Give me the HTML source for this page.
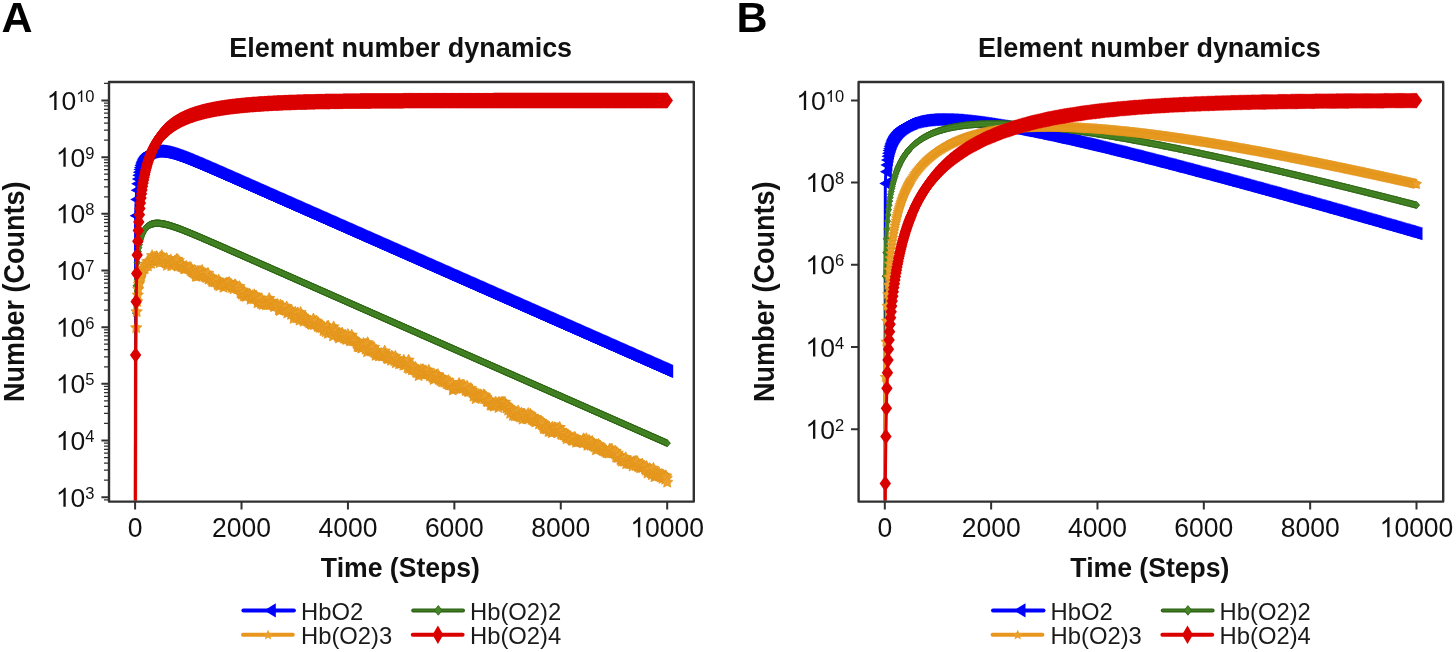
<!DOCTYPE html>
<html><head><meta charset="utf-8"><style>
html,body{margin:0;padding:0;background:#fff;}
svg{display:block;font-family:"Liberation Sans", sans-serif;will-change:transform;}
</style></head><body>
<svg width="1456" height="652" viewBox="0 0 1456 652">
<defs>
<marker id="mB" markerUnits="userSpaceOnUse" markerWidth="20" markerHeight="20" viewBox="-10 -10 20 20" refX="0" refY="0" overflow="visible"><path d="M-6,0 L6,-6.6 L6,6.6 Z" fill="#0000ff"/></marker>
<marker id="mC" markerUnits="userSpaceOnUse" markerWidth="20" markerHeight="20" viewBox="-10 -10 20 20" refX="0" refY="0" overflow="visible"><path d="M-3.1,0 L0,-3.6 L3.1,0 L0,3.6 Z" fill="#4b8b2b" stroke="#2f6414" stroke-width="0.9"/></marker>
<marker id="mDA" markerUnits="userSpaceOnUse" markerWidth="20" markerHeight="20" viewBox="-10 -10 20 20" refX="0" refY="0" overflow="visible"><path d="M0.00,-6.00 L1.76,-2.43 L5.71,-1.85 L2.85,0.93 L3.53,4.85 L0.00,3.00 L-3.53,4.85 L-2.85,0.93 L-5.71,-1.85 L-1.76,-2.43 Z" fill="#eba12c" stroke="#e39318" stroke-width="0.7"/></marker>
<marker id="mDB" markerUnits="userSpaceOnUse" markerWidth="20" markerHeight="20" viewBox="-10 -10 20 20" refX="0" refY="0" overflow="visible"><path d="M0.00,-5.30 L1.56,-2.14 L5.04,-1.64 L2.52,0.82 L3.12,4.29 L0.00,2.65 L-3.12,4.29 L-2.52,0.82 L-5.04,-1.64 L-1.56,-2.14 Z" fill="#eba12c" stroke="#e39318" stroke-width="0.7"/></marker>
<marker id="mE" markerUnits="userSpaceOnUse" markerWidth="20" markerHeight="20" viewBox="-10 -10 20 20" refX="0" refY="0" overflow="visible"><path d="M-5.7,0 L0,-7.9 L5.7,0 L0,7.9 Z" fill="#db0000"/></marker>
</defs>
<rect width="1456" height="652" fill="#fff"/>
<clipPath id="clipA"><rect x="110" y="83" width="582.8" height="417.6"/></clipPath>
<g clip-path="url(#clipA)">
<polyline points="135.1,700 135.6,215.7 136.2,199.4 136.7,190.2 137.2,183.8 137.8,179.1 138.3,175.3 138.8,172.2 139.4,169.6 139.9,167.5 140.4,165.6 141,163.9 141.5,162.5 142,161.2 142.5,160.1 143.1,159.1 143.6,158.2 144.1,157.4 144.7,156.7 145.2,156 145.7,155.4 146.3,154.9 146.8,154.4 147.3,154 147.9,153.6 148.4,153.2 148.9,152.9 149.5,152.7 150,152.4 150.5,152.2 151.1,152 151.6,151.8 152.1,151.7 152.7,151.6 153.2,151.4 153.7,151.4 154.3,151.3 154.8,151.2 155.3,151.2 155.9,151.2 156.4,151.2 156.9,151.2 157.4,151.2 158,151.2 158.5,151.2 159,151.3 159.6,151.3 160.1,151.4 160.6,151.4 161.2,151.5 161.7,151.6 162.2,151.7 162.8,151.8 163.3,151.9 163.8,152 164.4,152.1 164.9,152.2 165.4,152.4 166,152.5 166.5,152.6 167,152.8 167.6,152.9 168.1,153 168.6,153.2 169.2,153.4 169.7,153.5 170.2,153.7 170.8,153.8 171.3,154 171.8,154.2 172.3,154.4 172.9,154.5 173.4,154.7 173.9,154.9 174.5,155.1 175,155.3 175.5,155.4 176.1,155.6 176.6,155.8 177.1,156 177.7,156.2 178.2,156.4 178.7,156.6 179.3,156.8 179.8,157 180.3,157.2 180.9,157.4 181.4,157.6 181.9,157.8 182.5,158 183,158.2 183.5,158.5 184.1,158.7 184.6,158.9 185.1,159.1 185.6,159.3 186.2,159.5 186.7,159.7 187.2,159.9 187.8,160.2 188.3,160.4 188.8,160.6 189.4,160.8 189.9,161 190.4,161.3 191,161.5 191.5,161.7 192,161.9 192.6,162.1 193.1,162.4 193.6,162.6 194.2,162.8 194.7,163 195.2,163.3 195.8,163.5 196.3,163.7 196.8,163.9 197.4,164.2 197.9,164.4 198.4,164.6 199,164.9 199.5,165.1 200,165.3 200.5,165.5 201.1,165.8 201.6,166 202.1,166.2 202.7,166.4 203.2,166.7 203.7,166.9 204.3,167.1 204.8,167.4 205.3,167.6 205.9,167.8 206.4,168.1 206.9,168.3 207.5,168.5 208,168.8 208.5,169 209.1,169.2 209.6,169.4 210.1,169.7 210.7,169.9 211.2,170.1 211.7,170.4 212.3,170.6 212.8,170.8 213.3,171.1 213.9,171.3 214.4,171.5 214.9,171.8 215.4,172 216,172.2 216.5,172.5 217,172.7 217.6,172.9 218.1,173.2 218.6,173.4 219.2,173.6 219.7,173.9 220.2,174.1 220.8,174.3 221.3,174.6 221.8,174.8 222.4,175 222.9,175.3 223.4,175.5 224,175.7 224.5,176 225,176.2 225.6,176.4 226.1,176.7 226.6,176.9 227.2,177.1 227.7,177.4 228.2,177.6 228.7,177.8 229.3,178.1 229.8,178.3 230.3,178.5 230.9,178.8 231.4,179 231.9,179.2 232.5,179.5 233,179.7 233.5,179.9 234.1,180.2 234.6,180.4 235.1,180.7 235.7,180.9 236.2,181.1 236.7,181.4 237.3,181.6 237.8,181.8 238.3,182.1 238.9,182.3 239.4,182.5 239.9,182.8 240.5,183 241,183.2 241.5,183.5 242.1,183.7 242.6,183.9 243.1,184.2 243.6,184.4 244.2,184.6 244.7,184.9 245.2,185.1 245.8,185.3 246.3,185.6 246.8,185.8 247.4,186 247.9,186.3 248.4,186.5 249,186.7 249.5,187 250,187.2 250.6,187.5 251.1,187.7 251.6,187.9 252.2,188.2 252.7,188.4 253.2,188.6 253.8,188.9 254.3,189.1 254.8,189.3 255.4,189.6 255.9,189.8 256.4,190 257,190.3 257.5,190.5 258,190.7 258.5,191 259.1,191.2 259.6,191.4 260.1,191.7 260.7,191.9 261.2,192.1 261.7,192.4 262.3,192.6 262.8,192.9 263.3,193.1 263.9,193.3 264.4,193.6 264.9,193.8 265.5,194 266,194.3 266.5,194.5 267.1,194.7 267.6,195 268.1,195.2 268.7,195.4 269.2,195.7 269.7,195.9 270.3,196.1 270.8,196.4 271.3,196.6 271.8,196.8 272.4,197.1 272.9,197.3 273.4,197.5 274,197.8 274.5,198 275,198.3 275.6,198.5 276.1,198.7 276.6,199 277.2,199.2 277.7,199.4 278.2,199.7 278.8,199.9 279.3,200.1 279.8,200.4 280.4,200.6 280.9,200.8 281.4,201.1 282,201.3 282.5,201.5 283,201.8 283.6,202 284.1,202.2 284.6,202.5 285.2,202.7 285.7,202.9 286.2,203.2 286.7,203.4 287.3,203.7 287.8,203.9 288.3,204.1 288.9,204.4 289.4,204.6 289.9,204.8 290.5,205.1 291,205.3 291.5,205.5 292.1,205.8 292.6,206 293.1,206.2 293.7,206.5 294.2,206.7 294.7,206.9 295.3,207.2 295.8,207.4 296.3,207.6 296.9,207.9 297.4,208.1 297.9,208.3 298.5,208.6 299,208.8 299.5,209.1 300.1,209.3 300.6,209.5 301.1,209.8 301.6,210 302.2,210.2 302.7,210.5 303.2,210.7 303.8,210.9 304.3,211.2 304.8,211.4 305.4,211.6 305.9,211.9 306.4,212.1 307,212.3 307.5,212.6 308,212.8 308.6,213 309.1,213.3 309.6,213.5 310.2,213.7 310.7,214 311.2,214.2 311.8,214.5 312.3,214.7 312.8,214.9 313.4,215.2 313.9,215.4 314.4,215.6 314.9,215.9 315.5,216.1 316,216.3 316.5,216.6 317.1,216.8 317.6,217 318.1,217.3 318.7,217.5 319.2,217.7 319.7,218 320.3,218.2 320.8,218.4 321.3,218.7 321.9,218.9 322.4,219.1 322.9,219.4 323.5,219.6 324,219.9 324.5,220.1 325.1,220.3 325.6,220.6 326.1,220.8 326.7,221 327.2,221.3 327.7,221.5 328.3,221.7 328.8,222 329.3,222.2 329.8,222.4 330.4,222.7 330.9,222.9 331.4,223.1 332,223.4 332.5,223.6 333,223.8 333.6,224.1 334.1,224.3 334.6,224.5 335.2,224.8 335.7,225 336.2,225.3 336.8,225.5 337.3,225.7 337.8,226 338.4,226.2 338.9,226.4 339.4,226.7 340,226.9 340.5,227.1 341,227.4 341.6,227.6 342.1,227.8 342.6,228.1 343.2,228.3 343.7,228.5 344.2,228.8 344.7,229 345.3,229.2 345.8,229.5 346.3,229.7 346.9,229.9 347.4,230.2 347.9,230.4 348.5,230.7 349,230.9 349.5,231.1 350.1,231.4 350.6,231.6 351.1,231.8 351.7,232.1 352.2,232.3 352.7,232.5 353.3,232.8 353.8,233 354.3,233.2 354.9,233.5 355.4,233.7 355.9,233.9 356.5,234.2 357,234.4 357.5,234.6 358,234.9 358.6,235.1 359.1,235.3 359.6,235.6 360.2,235.8 360.7,236.1 361.2,236.3 361.8,236.5 362.3,236.8 362.8,237 363.4,237.2 363.9,237.5 364.4,237.7 365,237.9 365.5,238.2 366,238.4 366.6,238.6 367.1,238.9 367.6,239.1 368.2,239.3 368.7,239.6 369.2,239.8 369.8,240 370.3,240.3 370.8,240.5 371.4,240.7 371.9,241 372.4,241.2 372.9,241.5 373.5,241.7 374,241.9 374.5,242.2 375.1,242.4 375.6,242.6 376.1,242.9 376.7,243.1 377.2,243.3 377.7,243.6 378.3,243.8 378.8,244 379.3,244.3 379.9,244.5 380.4,244.7 380.9,245 381.5,245.2 382,245.4 382.5,245.7 383.1,245.9 383.6,246.1 384.1,246.4 384.7,246.6 385.2,246.9 385.7,247.1 386.3,247.3 386.8,247.6 387.3,247.8 387.8,248 388.4,248.3 388.9,248.5 389.4,248.7 390,249 390.5,249.2 391,249.4 391.6,249.7 392.1,249.9 392.6,250.1 393.2,250.4 393.7,250.6 394.2,250.8 394.8,251.1 395.3,251.3 395.8,251.5 396.4,251.8 396.9,252 397.4,252.3 398,252.5 398.5,252.7 399,253 399.6,253.2 400.1,253.4 400.6,253.7 401.1,253.9 401.7,254.1 402.2,254.4 402.7,254.6 403.3,254.8 403.8,255.1 404.3,255.3 404.9,255.5 405.4,255.8 405.9,256 406.5,256.2 407,256.5 407.5,256.7 408.1,256.9 408.6,257.2 409.1,257.4 409.7,257.7 410.2,257.9 410.7,258.1 411.3,258.4 411.8,258.6 412.3,258.8 412.9,259.1 413.4,259.3 413.9,259.5 414.5,259.8 415,260 415.5,260.2 416,260.5 416.6,260.7 417.1,260.9 417.6,261.2 418.2,261.4 418.7,261.6 419.2,261.9 419.8,262.1 420.3,262.3 420.8,262.6 421.4,262.8 421.9,263.1 422.4,263.3 423,263.5 423.5,263.8 424,264 424.6,264.2 425.1,264.5 425.6,264.7 426.2,264.9 426.7,265.2 427.2,265.4 427.8,265.6 428.3,265.9 428.8,266.1 429.4,266.3 429.9,266.6 430.4,266.8 430.9,267 431.5,267.3 432,267.5 432.5,267.7 433.1,268 433.6,268.2 434.1,268.5 434.7,268.7 435.2,268.9 435.7,269.2 436.3,269.4 436.8,269.6 437.3,269.9 437.9,270.1 438.4,270.3 438.9,270.6 439.5,270.8 440,271 440.5,271.3 441.1,271.5 441.6,271.7 442.1,272 442.7,272.2 443.2,272.4 443.7,272.7 444.3,272.9 444.8,273.1 445.3,273.4 445.8,273.6 446.4,273.9 446.9,274.1 447.4,274.3 448,274.6 448.5,274.8 449,275 449.6,275.3 450.1,275.5 450.6,275.7 451.2,276 451.7,276.2 452.2,276.4 452.8,276.7 453.3,276.9 453.8,277.1 454.4,277.4 454.9,277.6 455.4,277.8 456,278.1 456.5,278.3 457,278.5 457.6,278.8 458.1,279 458.6,279.3 459.1,279.5 459.7,279.7 460.2,280 460.7,280.2 461.3,280.4 461.8,280.7 462.3,280.9 462.9,281.1 463.4,281.4 463.9,281.6 464.5,281.8 465,282.1 465.5,282.3 466.1,282.5 466.6,282.8 467.1,283 467.7,283.2 468.2,283.5 468.7,283.7 469.3,283.9 469.8,284.2 470.3,284.4 470.9,284.7 471.4,284.9 471.9,285.1 472.5,285.4 473,285.6 473.5,285.8 474,286.1 474.6,286.3 475.1,286.5 475.6,286.8 476.2,287 476.7,287.2 477.2,287.5 477.8,287.7 478.3,287.9 478.8,288.2 479.4,288.4 479.9,288.6 480.4,288.9 481,289.1 481.5,289.3 482,289.6 482.6,289.8 483.1,290.1 483.6,290.3 484.2,290.5 484.7,290.8 485.2,291 485.8,291.2 486.3,291.5 486.8,291.7 487.4,291.9 487.9,292.2 488.4,292.4 488.9,292.6 489.5,292.9 490,293.1 490.5,293.3 491.1,293.6 491.6,293.8 492.1,294 492.7,294.3 493.2,294.5 493.7,294.8 494.3,295 494.8,295.2 495.3,295.5 495.9,295.7 496.4,295.9 496.9,296.2 497.5,296.4 498,296.6 498.5,296.9 499.1,297.1 499.6,297.3 500.1,297.6 500.7,297.8 501.2,298 501.7,298.3 502.2,298.5 502.8,298.7 503.3,299 503.8,299.2 504.4,299.4 504.9,299.7 505.4,299.9 506,300.2 506.5,300.4 507,300.6 507.6,300.9 508.1,301.1 508.6,301.3 509.2,301.6 509.7,301.8 510.2,302 510.8,302.3 511.3,302.5 511.8,302.7 512.4,303 512.9,303.2 513.4,303.4 514,303.7 514.5,303.9 515,304.1 515.6,304.4 516.1,304.6 516.6,304.8 517.1,305.1 517.7,305.3 518.2,305.6 518.7,305.8 519.3,306 519.8,306.3 520.3,306.5 520.9,306.7 521.4,307 521.9,307.2 522.5,307.4 523,307.7 523.5,307.9 524.1,308.1 524.6,308.4 525.1,308.6 525.7,308.8 526.2,309.1 526.7,309.3 527.3,309.5 527.8,309.8 528.3,310 528.9,310.2 529.4,310.5 529.9,310.7 530.5,311 531,311.2 531.5,311.4 532,311.7 532.6,311.9 533.1,312.1 533.6,312.4 534.2,312.6 534.7,312.8 535.2,313.1 535.8,313.3 536.3,313.5 536.8,313.8 537.4,314 537.9,314.2 538.4,314.5 539,314.7 539.5,314.9 540,315.2 540.6,315.4 541.1,315.6 541.6,315.9 542.2,316.1 542.7,316.4 543.2,316.6 543.8,316.8 544.3,317.1 544.8,317.3 545.3,317.5 545.9,317.8 546.4,318 546.9,318.2 547.5,318.5 548,318.7 548.5,318.9 549.1,319.2 549.6,319.4 550.1,319.6 550.7,319.9 551.2,320.1 551.7,320.3 552.3,320.6 552.8,320.8 553.3,321 553.9,321.3 554.4,321.5 554.9,321.8 555.5,322 556,322.2 556.5,322.5 557.1,322.7 557.6,322.9 558.1,323.2 558.7,323.4 559.2,323.6 559.7,323.9 560.2,324.1 560.8,324.3 561.3,324.6 561.8,324.8 562.4,325 562.9,325.3 563.4,325.5 564,325.7 564.5,326 565,326.2 565.6,326.4 566.1,326.7 566.6,326.9 567.2,327.2 567.7,327.4 568.2,327.6 568.8,327.9 569.3,328.1 569.8,328.3 570.4,328.6 570.9,328.8 571.4,329 572,329.3 572.5,329.5 573,329.7 573.6,330 574.1,330.2 574.6,330.4 575.1,330.7 575.7,330.9 576.2,331.1 576.7,331.4 577.3,331.6 577.8,331.8 578.3,332.1 578.9,332.3 579.4,332.6 579.9,332.8 580.5,333 581,333.3 581.5,333.5 582.1,333.7 582.6,334 583.1,334.2 583.7,334.4 584.2,334.7 584.7,334.9 585.3,335.1 585.8,335.4 586.3,335.6 586.9,335.8 587.4,336.1 587.9,336.3 588.4,336.5 589,336.8 589.5,337 590,337.2 590.6,337.5 591.1,337.7 591.6,338 592.2,338.2 592.7,338.4 593.2,338.7 593.8,338.9 594.3,339.1 594.8,339.4 595.4,339.6 595.9,339.8 596.4,340.1 597,340.3 597.5,340.5 598,340.8 598.6,341 599.1,341.2 599.6,341.5 600.2,341.7 600.7,341.9 601.2,342.2 601.8,342.4 602.3,342.6 602.8,342.9 603.3,343.1 603.9,343.4 604.4,343.6 604.9,343.8 605.5,344.1 606,344.3 606.5,344.5 607.1,344.8 607.6,345 608.1,345.2 608.7,345.5 609.2,345.7 609.7,345.9 610.3,346.2 610.8,346.4 611.3,346.6 611.9,346.9 612.4,347.1 612.9,347.3 613.5,347.6 614,347.8 614.5,348 615.1,348.3 615.6,348.5 616.1,348.8 616.7,349 617.2,349.2 617.7,349.5 618.2,349.7 618.8,349.9 619.3,350.2 619.8,350.4 620.4,350.6 620.9,350.9 621.4,351.1 622,351.3 622.5,351.6 623,351.8 623.6,352 624.1,352.3 624.6,352.5 625.2,352.7 625.7,353 626.2,353.2 626.8,353.4 627.3,353.7 627.8,353.9 628.4,354.2 628.9,354.4 629.4,354.6 630,354.9 630.5,355.1 631,355.3 631.5,355.6 632.1,355.8 632.6,356 633.1,356.3 633.7,356.5 634.2,356.7 634.7,357 635.3,357.2 635.8,357.4 636.3,357.7 636.9,357.9 637.4,358.1 637.9,358.4 638.5,358.6 639,358.8 639.5,359.1 640.1,359.3 640.6,359.6 641.1,359.8 641.7,360 642.2,360.3 642.7,360.5 643.3,360.7 643.8,361 644.3,361.2 644.9,361.4 645.4,361.7 645.9,361.9 646.4,362.1 647,362.4 647.5,362.6 648,362.8 648.6,363.1 649.1,363.3 649.6,363.5 650.2,363.8 650.7,364 651.2,364.2 651.8,364.5 652.3,364.7 652.8,365 653.4,365.2 653.9,365.4 654.4,365.7 655,365.9 655.5,366.1 656,366.4 656.6,366.6 657.1,366.8 657.6,367.1 658.2,367.3 658.7,367.5 659.2,367.8 659.8,368 660.3,368.2 660.8,368.5 661.3,368.7 661.9,368.9 662.4,369.2 662.9,369.4 663.5,369.6 664,369.9 664.5,370.1 665.1,370.4 665.6,370.6 666.1,370.8 666.7,371.1 667.2,371.3" fill="none" stroke="#0000ff" stroke-width="3" stroke-linejoin="round" marker-mid="url(#mB)" marker-end="url(#mB)"/>
<polyline points="135.1,700 135.6,313.2 136.2,285.8 136.7,271.7 137.2,262.7 137.8,256.4 138.3,251.5 138.8,247.7 139.4,244.6 139.9,242 140.4,239.8 141,237.9 141.5,236.2 142,234.7 142.5,233.5 143.1,232.3 143.6,231.3 144.1,230.4 144.7,229.6 145.2,228.8 145.7,228.2 146.3,227.6 146.8,227.1 147.3,226.6 147.9,226.1 148.4,225.8 148.9,225.4 149.5,225.1 150,224.8 150.5,224.6 151.1,224.3 151.6,224.1 152.1,224 152.7,223.8 153.2,223.7 153.7,223.6 154.3,223.5 154.8,223.4 155.3,223.4 155.9,223.3 156.4,223.3 156.9,223.3 157.4,223.3 158,223.3 158.5,223.3 159,223.3 159.6,223.4 160.1,223.4 160.6,223.5 161.2,223.6 161.7,223.6 162.2,223.7 162.8,223.8 163.3,223.9 163.8,224 164.4,224.1 164.9,224.2 165.4,224.3 166,224.5 166.5,224.6 167,224.7 167.6,224.9 168.1,225 168.6,225.2 169.2,225.3 169.7,225.5 170.2,225.6 170.8,225.8 171.3,226 171.8,226.1 172.3,226.3 172.9,226.5 173.4,226.6 173.9,226.8 174.5,227 175,227.2 175.5,227.4 176.1,227.6 176.6,227.7 177.1,227.9 177.7,228.1 178.2,228.3 178.7,228.5 179.3,228.7 179.8,228.9 180.3,229.1 180.9,229.3 181.4,229.5 181.9,229.7 182.5,229.9 183,230.1 183.5,230.4 184.1,230.6 184.6,230.8 185.1,231 185.6,231.2 186.2,231.4 186.7,231.6 187.2,231.8 187.8,232.1 188.3,232.3 188.8,232.5 189.4,232.7 189.9,232.9 190.4,233.2 191,233.4 191.5,233.6 192,233.8 192.6,234 193.1,234.3 193.6,234.5 194.2,234.7 194.7,234.9 195.2,235.2 195.8,235.4 196.3,235.6 196.8,235.8 197.4,236.1 197.9,236.3 198.4,236.5 199,236.7 199.5,237 200,237.2 200.5,237.4 201.1,237.6 201.6,237.9 202.1,238.1 202.7,238.3 203.2,238.6 203.7,238.8 204.3,239 204.8,239.2 205.3,239.5 205.9,239.7 206.4,239.9 206.9,240.2 207.5,240.4 208,240.6 208.5,240.9 209.1,241.1 209.6,241.3 210.1,241.6 210.7,241.8 211.2,242 211.7,242.3 212.3,242.5 212.8,242.7 213.3,242.9 213.9,243.2 214.4,243.4 214.9,243.6 215.4,243.9 216,244.1 216.5,244.3 217,244.6 217.6,244.8 218.1,245 218.6,245.3 219.2,245.5 219.7,245.7 220.2,246 220.8,246.2 221.3,246.4 221.8,246.7 222.4,246.9 222.9,247.1 223.4,247.4 224,247.6 224.5,247.8 225,248.1 225.6,248.3 226.1,248.5 226.6,248.8 227.2,249 227.7,249.2 228.2,249.5 228.7,249.7 229.3,250 229.8,250.2 230.3,250.4 230.9,250.7 231.4,250.9 231.9,251.1 232.5,251.4 233,251.6 233.5,251.8 234.1,252.1 234.6,252.3 235.1,252.5 235.7,252.8 236.2,253 236.7,253.2 237.3,253.5 237.8,253.7 238.3,253.9 238.9,254.2 239.4,254.4 239.9,254.6 240.5,254.9 241,255.1 241.5,255.3 242.1,255.6 242.6,255.8 243.1,256 243.6,256.3 244.2,256.5 244.7,256.7 245.2,257 245.8,257.2 246.3,257.5 246.8,257.7 247.4,257.9 247.9,258.2 248.4,258.4 249,258.6 249.5,258.9 250,259.1 250.6,259.3 251.1,259.6 251.6,259.8 252.2,260 252.7,260.3 253.2,260.5 253.8,260.7 254.3,261 254.8,261.2 255.4,261.4 255.9,261.7 256.4,261.9 257,262.1 257.5,262.4 258,262.6 258.5,262.8 259.1,263.1 259.6,263.3 260.1,263.6 260.7,263.8 261.2,264 261.7,264.3 262.3,264.5 262.8,264.7 263.3,265 263.9,265.2 264.4,265.4 264.9,265.7 265.5,265.9 266,266.1 266.5,266.4 267.1,266.6 267.6,266.8 268.1,267.1 268.7,267.3 269.2,267.5 269.7,267.8 270.3,268 270.8,268.2 271.3,268.5 271.8,268.7 272.4,269 272.9,269.2 273.4,269.4 274,269.7 274.5,269.9 275,270.1 275.6,270.4 276.1,270.6 276.6,270.8 277.2,271.1 277.7,271.3 278.2,271.5 278.8,271.8 279.3,272 279.8,272.2 280.4,272.5 280.9,272.7 281.4,272.9 282,273.2 282.5,273.4 283,273.6 283.6,273.9 284.1,274.1 284.6,274.4 285.2,274.6 285.7,274.8 286.2,275.1 286.7,275.3 287.3,275.5 287.8,275.8 288.3,276 288.9,276.2 289.4,276.5 289.9,276.7 290.5,276.9 291,277.2 291.5,277.4 292.1,277.6 292.6,277.9 293.1,278.1 293.7,278.3 294.2,278.6 294.7,278.8 295.3,279 295.8,279.3 296.3,279.5 296.9,279.8 297.4,280 297.9,280.2 298.5,280.5 299,280.7 299.5,280.9 300.1,281.2 300.6,281.4 301.1,281.6 301.6,281.9 302.2,282.1 302.7,282.3 303.2,282.6 303.8,282.8 304.3,283 304.8,283.3 305.4,283.5 305.9,283.7 306.4,284 307,284.2 307.5,284.4 308,284.7 308.6,284.9 309.1,285.2 309.6,285.4 310.2,285.6 310.7,285.9 311.2,286.1 311.8,286.3 312.3,286.6 312.8,286.8 313.4,287 313.9,287.3 314.4,287.5 314.9,287.7 315.5,288 316,288.2 316.5,288.4 317.1,288.7 317.6,288.9 318.1,289.1 318.7,289.4 319.2,289.6 319.7,289.8 320.3,290.1 320.8,290.3 321.3,290.6 321.9,290.8 322.4,291 322.9,291.3 323.5,291.5 324,291.7 324.5,292 325.1,292.2 325.6,292.4 326.1,292.7 326.7,292.9 327.2,293.1 327.7,293.4 328.3,293.6 328.8,293.8 329.3,294.1 329.8,294.3 330.4,294.5 330.9,294.8 331.4,295 332,295.2 332.5,295.5 333,295.7 333.6,296 334.1,296.2 334.6,296.4 335.2,296.7 335.7,296.9 336.2,297.1 336.8,297.4 337.3,297.6 337.8,297.8 338.4,298.1 338.9,298.3 339.4,298.5 340,298.8 340.5,299 341,299.2 341.6,299.5 342.1,299.7 342.6,299.9 343.2,300.2 343.7,300.4 344.2,300.6 344.7,300.9 345.3,301.1 345.8,301.4 346.3,301.6 346.9,301.8 347.4,302.1 347.9,302.3 348.5,302.5 349,302.8 349.5,303 350.1,303.2 350.6,303.5 351.1,303.7 351.7,303.9 352.2,304.2 352.7,304.4 353.3,304.6 353.8,304.9 354.3,305.1 354.9,305.3 355.4,305.6 355.9,305.8 356.5,306 357,306.3 357.5,306.5 358,306.8 358.6,307 359.1,307.2 359.6,307.5 360.2,307.7 360.7,307.9 361.2,308.2 361.8,308.4 362.3,308.6 362.8,308.9 363.4,309.1 363.9,309.3 364.4,309.6 365,309.8 365.5,310 366,310.3 366.6,310.5 367.1,310.7 367.6,311 368.2,311.2 368.7,311.4 369.2,311.7 369.8,311.9 370.3,312.2 370.8,312.4 371.4,312.6 371.9,312.9 372.4,313.1 372.9,313.3 373.5,313.6 374,313.8 374.5,314 375.1,314.3 375.6,314.5 376.1,314.7 376.7,315 377.2,315.2 377.7,315.4 378.3,315.7 378.8,315.9 379.3,316.1 379.9,316.4 380.4,316.6 380.9,316.8 381.5,317.1 382,317.3 382.5,317.6 383.1,317.8 383.6,318 384.1,318.3 384.7,318.5 385.2,318.7 385.7,319 386.3,319.2 386.8,319.4 387.3,319.7 387.8,319.9 388.4,320.1 388.9,320.4 389.4,320.6 390,320.8 390.5,321.1 391,321.3 391.6,321.5 392.1,321.8 392.6,322 393.2,322.2 393.7,322.5 394.2,322.7 394.8,323 395.3,323.2 395.8,323.4 396.4,323.7 396.9,323.9 397.4,324.1 398,324.4 398.5,324.6 399,324.8 399.6,325.1 400.1,325.3 400.6,325.5 401.1,325.8 401.7,326 402.2,326.2 402.7,326.5 403.3,326.7 403.8,326.9 404.3,327.2 404.9,327.4 405.4,327.6 405.9,327.9 406.5,328.1 407,328.4 407.5,328.6 408.1,328.8 408.6,329.1 409.1,329.3 409.7,329.5 410.2,329.8 410.7,330 411.3,330.2 411.8,330.5 412.3,330.7 412.9,330.9 413.4,331.2 413.9,331.4 414.5,331.6 415,331.9 415.5,332.1 416,332.3 416.6,332.6 417.1,332.8 417.6,333 418.2,333.3 418.7,333.5 419.2,333.8 419.8,334 420.3,334.2 420.8,334.5 421.4,334.7 421.9,334.9 422.4,335.2 423,335.4 423.5,335.6 424,335.9 424.6,336.1 425.1,336.3 425.6,336.6 426.2,336.8 426.7,337 427.2,337.3 427.8,337.5 428.3,337.7 428.8,338 429.4,338.2 429.9,338.4 430.4,338.7 430.9,338.9 431.5,339.2 432,339.4 432.5,339.6 433.1,339.9 433.6,340.1 434.1,340.3 434.7,340.6 435.2,340.8 435.7,341 436.3,341.3 436.8,341.5 437.3,341.7 437.9,342 438.4,342.2 438.9,342.4 439.5,342.7 440,342.9 440.5,343.1 441.1,343.4 441.6,343.6 442.1,343.8 442.7,344.1 443.2,344.3 443.7,344.6 444.3,344.8 444.8,345 445.3,345.3 445.8,345.5 446.4,345.7 446.9,346 447.4,346.2 448,346.4 448.5,346.7 449,346.9 449.6,347.1 450.1,347.4 450.6,347.6 451.2,347.8 451.7,348.1 452.2,348.3 452.8,348.5 453.3,348.8 453.8,349 454.4,349.3 454.9,349.5 455.4,349.7 456,350 456.5,350.2 457,350.4 457.6,350.7 458.1,350.9 458.6,351.1 459.1,351.4 459.7,351.6 460.2,351.8 460.7,352.1 461.3,352.3 461.8,352.5 462.3,352.8 462.9,353 463.4,353.2 463.9,353.5 464.5,353.7 465,353.9 465.5,354.2 466.1,354.4 466.6,354.7 467.1,354.9 467.7,355.1 468.2,355.4 468.7,355.6 469.3,355.8 469.8,356.1 470.3,356.3 470.9,356.5 471.4,356.8 471.9,357 472.5,357.2 473,357.5 473.5,357.7 474,357.9 474.6,358.2 475.1,358.4 475.6,358.6 476.2,358.9 476.7,359.1 477.2,359.3 477.8,359.6 478.3,359.8 478.8,360.1 479.4,360.3 479.9,360.5 480.4,360.8 481,361 481.5,361.2 482,361.5 482.6,361.7 483.1,361.9 483.6,362.2 484.2,362.4 484.7,362.6 485.2,362.9 485.8,363.1 486.3,363.3 486.8,363.6 487.4,363.8 487.9,364 488.4,364.3 488.9,364.5 489.5,364.7 490,365 490.5,365.2 491.1,365.5 491.6,365.7 492.1,365.9 492.7,366.2 493.2,366.4 493.7,366.6 494.3,366.9 494.8,367.1 495.3,367.3 495.9,367.6 496.4,367.8 496.9,368 497.5,368.3 498,368.5 498.5,368.7 499.1,369 499.6,369.2 500.1,369.4 500.7,369.7 501.2,369.9 501.7,370.1 502.2,370.4 502.8,370.6 503.3,370.9 503.8,371.1 504.4,371.3 504.9,371.6 505.4,371.8 506,372 506.5,372.3 507,372.5 507.6,372.7 508.1,373 508.6,373.2 509.2,373.4 509.7,373.7 510.2,373.9 510.8,374.1 511.3,374.4 511.8,374.6 512.4,374.8 512.9,375.1 513.4,375.3 514,375.5 514.5,375.8 515,376 515.6,376.3 516.1,376.5 516.6,376.7 517.1,377 517.7,377.2 518.2,377.4 518.7,377.7 519.3,377.9 519.8,378.1 520.3,378.4 520.9,378.6 521.4,378.8 521.9,379.1 522.5,379.3 523,379.5 523.5,379.8 524.1,380 524.6,380.2 525.1,380.5 525.7,380.7 526.2,380.9 526.7,381.2 527.3,381.4 527.8,381.7 528.3,381.9 528.9,382.1 529.4,382.4 529.9,382.6 530.5,382.8 531,383.1 531.5,383.3 532,383.5 532.6,383.8 533.1,384 533.6,384.2 534.2,384.5 534.7,384.7 535.2,384.9 535.8,385.2 536.3,385.4 536.8,385.6 537.4,385.9 537.9,386.1 538.4,386.3 539,386.6 539.5,386.8 540,387.1 540.6,387.3 541.1,387.5 541.6,387.8 542.2,388 542.7,388.2 543.2,388.5 543.8,388.7 544.3,388.9 544.8,389.2 545.3,389.4 545.9,389.6 546.4,389.9 546.9,390.1 547.5,390.3 548,390.6 548.5,390.8 549.1,391 549.6,391.3 550.1,391.5 550.7,391.7 551.2,392 551.7,392.2 552.3,392.5 552.8,392.7 553.3,392.9 553.9,393.2 554.4,393.4 554.9,393.6 555.5,393.9 556,394.1 556.5,394.3 557.1,394.6 557.6,394.8 558.1,395 558.7,395.3 559.2,395.5 559.7,395.7 560.2,396 560.8,396.2 561.3,396.4 561.8,396.7 562.4,396.9 562.9,397.1 563.4,397.4 564,397.6 564.5,397.9 565,398.1 565.6,398.3 566.1,398.6 566.6,398.8 567.2,399 567.7,399.3 568.2,399.5 568.8,399.7 569.3,400 569.8,400.2 570.4,400.4 570.9,400.7 571.4,400.9 572,401.1 572.5,401.4 573,401.6 573.6,401.8 574.1,402.1 574.6,402.3 575.1,402.5 575.7,402.8 576.2,403 576.7,403.3 577.3,403.5 577.8,403.7 578.3,404 578.9,404.2 579.4,404.4 579.9,404.7 580.5,404.9 581,405.1 581.5,405.4 582.1,405.6 582.6,405.8 583.1,406.1 583.7,406.3 584.2,406.5 584.7,406.8 585.3,407 585.8,407.2 586.3,407.5 586.9,407.7 587.4,407.9 587.9,408.2 588.4,408.4 589,408.7 589.5,408.9 590,409.1 590.6,409.4 591.1,409.6 591.6,409.8 592.2,410.1 592.7,410.3 593.2,410.5 593.8,410.8 594.3,411 594.8,411.2 595.4,411.5 595.9,411.7 596.4,411.9 597,412.2 597.5,412.4 598,412.6 598.6,412.9 599.1,413.1 599.6,413.3 600.2,413.6 600.7,413.8 601.2,414.1 601.8,414.3 602.3,414.5 602.8,414.8 603.3,415 603.9,415.2 604.4,415.5 604.9,415.7 605.5,415.9 606,416.2 606.5,416.4 607.1,416.6 607.6,416.9 608.1,417.1 608.7,417.3 609.2,417.6 609.7,417.8 610.3,418 610.8,418.3 611.3,418.5 611.9,418.7 612.4,419 612.9,419.2 613.5,419.5 614,419.7 614.5,419.9 615.1,420.2 615.6,420.4 616.1,420.6 616.7,420.9 617.2,421.1 617.7,421.3 618.2,421.6 618.8,421.8 619.3,422 619.8,422.3 620.4,422.5 620.9,422.7 621.4,423 622,423.2 622.5,423.4 623,423.7 623.6,423.9 624.1,424.1 624.6,424.4 625.2,424.6 625.7,424.9 626.2,425.1 626.8,425.3 627.3,425.6 627.8,425.8 628.4,426 628.9,426.3 629.4,426.5 630,426.7 630.5,427 631,427.2 631.5,427.4 632.1,427.7 632.6,427.9 633.1,428.1 633.7,428.4 634.2,428.6 634.7,428.8 635.3,429.1 635.8,429.3 636.3,429.5 636.9,429.8 637.4,430 637.9,430.3 638.5,430.5 639,430.7 639.5,431 640.1,431.2 640.6,431.4 641.1,431.7 641.7,431.9 642.2,432.1 642.7,432.4 643.3,432.6 643.8,432.8 644.3,433.1 644.9,433.3 645.4,433.5 645.9,433.8 646.4,434 647,434.2 647.5,434.5 648,434.7 648.6,434.9 649.1,435.2 649.6,435.4 650.2,435.7 650.7,435.9 651.2,436.1 651.8,436.4 652.3,436.6 652.8,436.8 653.4,437.1 653.9,437.3 654.4,437.5 655,437.8 655.5,438 656,438.2 656.6,438.5 657.1,438.7 657.6,438.9 658.2,439.2 658.7,439.4 659.2,439.6 659.8,439.9 660.3,440.1 660.8,440.4 661.3,440.6 661.9,440.8 662.4,441.1 662.9,441.3 663.5,441.5 664,441.8 664.5,442 665.1,442.2 665.6,442.5 666.1,442.7 666.7,442.9 667.2,443.2" fill="none" stroke="#2f6414" stroke-width="2" stroke-linejoin="round" marker-mid="url(#mC)" marker-end="url(#mC)"/>
<polyline points="135.6,313.2 136.2,285.8 136.7,271.7 137.2,262.7 137.8,256.4 138.3,251.5 138.8,247.7 139.4,244.6 139.9,242 140.4,239.8 141,237.9 141.5,236.2 142,234.7 142.5,233.5 143.1,232.3 143.6,231.3 144.1,230.4 144.7,229.6 145.2,228.8 145.7,228.2 146.3,227.6 146.8,227.1 147.3,226.6 147.9,226.1 148.4,225.8 148.9,225.4 149.5,225.1 150,224.8 150.5,224.6 151.1,224.3 151.6,224.1 152.1,224 152.7,223.8 153.2,223.7 153.7,223.6 154.3,223.5 154.8,223.4 155.3,223.4 155.9,223.3 156.4,223.3 156.9,223.3 157.4,223.3 158,223.3 158.5,223.3 159,223.3 159.6,223.4 160.1,223.4 160.6,223.5 161.2,223.6 161.7,223.6 162.2,223.7 162.8,223.8 163.3,223.9 163.8,224 164.4,224.1 164.9,224.2 165.4,224.3 166,224.5 166.5,224.6 167,224.7 167.6,224.9 168.1,225 168.6,225.2 169.2,225.3 169.7,225.5 170.2,225.6 170.8,225.8 171.3,226 171.8,226.1 172.3,226.3 172.9,226.5 173.4,226.6 173.9,226.8 174.5,227 175,227.2 175.5,227.4 176.1,227.6 176.6,227.7 177.1,227.9 177.7,228.1 178.2,228.3 178.7,228.5 179.3,228.7 179.8,228.9 180.3,229.1 180.9,229.3 181.4,229.5 181.9,229.7 182.5,229.9 183,230.1 183.5,230.4 184.1,230.6 184.6,230.8 185.1,231 185.6,231.2 186.2,231.4 186.7,231.6 187.2,231.8 187.8,232.1 188.3,232.3 188.8,232.5 189.4,232.7 189.9,232.9 190.4,233.2 191,233.4 191.5,233.6 192,233.8 192.6,234 193.1,234.3 193.6,234.5 194.2,234.7 194.7,234.9 195.2,235.2 195.8,235.4 196.3,235.6 196.8,235.8 197.4,236.1 197.9,236.3 198.4,236.5 199,236.7 199.5,237 200,237.2 200.5,237.4 201.1,237.6 201.6,237.9 202.1,238.1 202.7,238.3 203.2,238.6 203.7,238.8 204.3,239 204.8,239.2 205.3,239.5 205.9,239.7 206.4,239.9 206.9,240.2 207.5,240.4 208,240.6 208.5,240.9 209.1,241.1 209.6,241.3 210.1,241.6 210.7,241.8 211.2,242 211.7,242.3 212.3,242.5 212.8,242.7 213.3,242.9 213.9,243.2 214.4,243.4 214.9,243.6 215.4,243.9 216,244.1 216.5,244.3 217,244.6 217.6,244.8 218.1,245 218.6,245.3 219.2,245.5 219.7,245.7 220.2,246 220.8,246.2 221.3,246.4 221.8,246.7 222.4,246.9 222.9,247.1 223.4,247.4 224,247.6 224.5,247.8 225,248.1 225.6,248.3 226.1,248.5 226.6,248.8 227.2,249 227.7,249.2 228.2,249.5 228.7,249.7 229.3,250 229.8,250.2 230.3,250.4 230.9,250.7 231.4,250.9 231.9,251.1 232.5,251.4 233,251.6 233.5,251.8 234.1,252.1 234.6,252.3 235.1,252.5 235.7,252.8 236.2,253 236.7,253.2 237.3,253.5 237.8,253.7 238.3,253.9 238.9,254.2 239.4,254.4 239.9,254.6 240.5,254.9 241,255.1 241.5,255.3 242.1,255.6 242.6,255.8 243.1,256 243.6,256.3 244.2,256.5 244.7,256.7 245.2,257 245.8,257.2 246.3,257.5 246.8,257.7 247.4,257.9 247.9,258.2 248.4,258.4 249,258.6 249.5,258.9 250,259.1 250.6,259.3 251.1,259.6 251.6,259.8 252.2,260 252.7,260.3 253.2,260.5 253.8,260.7 254.3,261 254.8,261.2 255.4,261.4 255.9,261.7 256.4,261.9 257,262.1 257.5,262.4 258,262.6 258.5,262.8 259.1,263.1 259.6,263.3 260.1,263.6 260.7,263.8 261.2,264 261.7,264.3 262.3,264.5 262.8,264.7 263.3,265 263.9,265.2 264.4,265.4 264.9,265.7 265.5,265.9 266,266.1 266.5,266.4 267.1,266.6 267.6,266.8 268.1,267.1 268.7,267.3 269.2,267.5 269.7,267.8 270.3,268 270.8,268.2 271.3,268.5 271.8,268.7 272.4,269 272.9,269.2 273.4,269.4 274,269.7 274.5,269.9 275,270.1 275.6,270.4 276.1,270.6 276.6,270.8 277.2,271.1 277.7,271.3 278.2,271.5 278.8,271.8 279.3,272 279.8,272.2 280.4,272.5 280.9,272.7 281.4,272.9 282,273.2 282.5,273.4 283,273.6 283.6,273.9 284.1,274.1 284.6,274.4 285.2,274.6 285.7,274.8 286.2,275.1 286.7,275.3 287.3,275.5 287.8,275.8 288.3,276 288.9,276.2 289.4,276.5 289.9,276.7 290.5,276.9 291,277.2 291.5,277.4 292.1,277.6 292.6,277.9 293.1,278.1 293.7,278.3 294.2,278.6 294.7,278.8 295.3,279 295.8,279.3 296.3,279.5 296.9,279.8 297.4,280 297.9,280.2 298.5,280.5 299,280.7 299.5,280.9 300.1,281.2 300.6,281.4 301.1,281.6 301.6,281.9 302.2,282.1 302.7,282.3 303.2,282.6 303.8,282.8 304.3,283 304.8,283.3 305.4,283.5 305.9,283.7 306.4,284 307,284.2 307.5,284.4 308,284.7 308.6,284.9 309.1,285.2 309.6,285.4 310.2,285.6 310.7,285.9 311.2,286.1 311.8,286.3 312.3,286.6 312.8,286.8 313.4,287 313.9,287.3 314.4,287.5 314.9,287.7 315.5,288 316,288.2 316.5,288.4 317.1,288.7 317.6,288.9 318.1,289.1 318.7,289.4 319.2,289.6 319.7,289.8 320.3,290.1 320.8,290.3 321.3,290.6 321.9,290.8 322.4,291 322.9,291.3 323.5,291.5 324,291.7 324.5,292 325.1,292.2 325.6,292.4 326.1,292.7 326.7,292.9 327.2,293.1 327.7,293.4 328.3,293.6 328.8,293.8 329.3,294.1 329.8,294.3 330.4,294.5 330.9,294.8 331.4,295 332,295.2 332.5,295.5 333,295.7 333.6,296 334.1,296.2 334.6,296.4 335.2,296.7 335.7,296.9 336.2,297.1 336.8,297.4 337.3,297.6 337.8,297.8 338.4,298.1 338.9,298.3 339.4,298.5 340,298.8 340.5,299 341,299.2 341.6,299.5 342.1,299.7 342.6,299.9 343.2,300.2 343.7,300.4 344.2,300.6 344.7,300.9 345.3,301.1 345.8,301.4 346.3,301.6 346.9,301.8 347.4,302.1 347.9,302.3 348.5,302.5 349,302.8 349.5,303 350.1,303.2 350.6,303.5 351.1,303.7 351.7,303.9 352.2,304.2 352.7,304.4 353.3,304.6 353.8,304.9 354.3,305.1 354.9,305.3 355.4,305.6 355.9,305.8 356.5,306 357,306.3 357.5,306.5 358,306.8 358.6,307 359.1,307.2 359.6,307.5 360.2,307.7 360.7,307.9 361.2,308.2 361.8,308.4 362.3,308.6 362.8,308.9 363.4,309.1 363.9,309.3 364.4,309.6 365,309.8 365.5,310 366,310.3 366.6,310.5 367.1,310.7 367.6,311 368.2,311.2 368.7,311.4 369.2,311.7 369.8,311.9 370.3,312.2 370.8,312.4 371.4,312.6 371.9,312.9 372.4,313.1 372.9,313.3 373.5,313.6 374,313.8 374.5,314 375.1,314.3 375.6,314.5 376.1,314.7 376.7,315 377.2,315.2 377.7,315.4 378.3,315.7 378.8,315.9 379.3,316.1 379.9,316.4 380.4,316.6 380.9,316.8 381.5,317.1 382,317.3 382.5,317.6 383.1,317.8 383.6,318 384.1,318.3 384.7,318.5 385.2,318.7 385.7,319 386.3,319.2 386.8,319.4 387.3,319.7 387.8,319.9 388.4,320.1 388.9,320.4 389.4,320.6 390,320.8 390.5,321.1 391,321.3 391.6,321.5 392.1,321.8 392.6,322 393.2,322.2 393.7,322.5 394.2,322.7 394.8,323 395.3,323.2 395.8,323.4 396.4,323.7 396.9,323.9 397.4,324.1 398,324.4 398.5,324.6 399,324.8 399.6,325.1 400.1,325.3 400.6,325.5 401.1,325.8 401.7,326 402.2,326.2 402.7,326.5 403.3,326.7 403.8,326.9 404.3,327.2 404.9,327.4 405.4,327.6 405.9,327.9 406.5,328.1 407,328.4 407.5,328.6 408.1,328.8 408.6,329.1 409.1,329.3 409.7,329.5 410.2,329.8 410.7,330 411.3,330.2 411.8,330.5 412.3,330.7 412.9,330.9 413.4,331.2 413.9,331.4 414.5,331.6 415,331.9 415.5,332.1 416,332.3 416.6,332.6 417.1,332.8 417.6,333 418.2,333.3 418.7,333.5 419.2,333.8 419.8,334 420.3,334.2 420.8,334.5 421.4,334.7 421.9,334.9 422.4,335.2 423,335.4 423.5,335.6 424,335.9 424.6,336.1 425.1,336.3 425.6,336.6 426.2,336.8 426.7,337 427.2,337.3 427.8,337.5 428.3,337.7 428.8,338 429.4,338.2 429.9,338.4 430.4,338.7 430.9,338.9 431.5,339.2 432,339.4 432.5,339.6 433.1,339.9 433.6,340.1 434.1,340.3 434.7,340.6 435.2,340.8 435.7,341 436.3,341.3 436.8,341.5 437.3,341.7 437.9,342 438.4,342.2 438.9,342.4 439.5,342.7 440,342.9 440.5,343.1 441.1,343.4 441.6,343.6 442.1,343.8 442.7,344.1 443.2,344.3 443.7,344.6 444.3,344.8 444.8,345 445.3,345.3 445.8,345.5 446.4,345.7 446.9,346 447.4,346.2 448,346.4 448.5,346.7 449,346.9 449.6,347.1 450.1,347.4 450.6,347.6 451.2,347.8 451.7,348.1 452.2,348.3 452.8,348.5 453.3,348.8 453.8,349 454.4,349.3 454.9,349.5 455.4,349.7 456,350 456.5,350.2 457,350.4 457.6,350.7 458.1,350.9 458.6,351.1 459.1,351.4 459.7,351.6 460.2,351.8 460.7,352.1 461.3,352.3 461.8,352.5 462.3,352.8 462.9,353 463.4,353.2 463.9,353.5 464.5,353.7 465,353.9 465.5,354.2 466.1,354.4 466.6,354.7 467.1,354.9 467.7,355.1 468.2,355.4 468.7,355.6 469.3,355.8 469.8,356.1 470.3,356.3 470.9,356.5 471.4,356.8 471.9,357 472.5,357.2 473,357.5 473.5,357.7 474,357.9 474.6,358.2 475.1,358.4 475.6,358.6 476.2,358.9 476.7,359.1 477.2,359.3 477.8,359.6 478.3,359.8 478.8,360.1 479.4,360.3 479.9,360.5 480.4,360.8 481,361 481.5,361.2 482,361.5 482.6,361.7 483.1,361.9 483.6,362.2 484.2,362.4 484.7,362.6 485.2,362.9 485.8,363.1 486.3,363.3 486.8,363.6 487.4,363.8 487.9,364 488.4,364.3 488.9,364.5 489.5,364.7 490,365 490.5,365.2 491.1,365.5 491.6,365.7 492.1,365.9 492.7,366.2 493.2,366.4 493.7,366.6 494.3,366.9 494.8,367.1 495.3,367.3 495.9,367.6 496.4,367.8 496.9,368 497.5,368.3 498,368.5 498.5,368.7 499.1,369 499.6,369.2 500.1,369.4 500.7,369.7 501.2,369.9 501.7,370.1 502.2,370.4 502.8,370.6 503.3,370.9 503.8,371.1 504.4,371.3 504.9,371.6 505.4,371.8 506,372 506.5,372.3 507,372.5 507.6,372.7 508.1,373 508.6,373.2 509.2,373.4 509.7,373.7 510.2,373.9 510.8,374.1 511.3,374.4 511.8,374.6 512.4,374.8 512.9,375.1 513.4,375.3 514,375.5 514.5,375.8 515,376 515.6,376.3 516.1,376.5 516.6,376.7 517.1,377 517.7,377.2 518.2,377.4 518.7,377.7 519.3,377.9 519.8,378.1 520.3,378.4 520.9,378.6 521.4,378.8 521.9,379.1 522.5,379.3 523,379.5 523.5,379.8 524.1,380 524.6,380.2 525.1,380.5 525.7,380.7 526.2,380.9 526.7,381.2 527.3,381.4 527.8,381.7 528.3,381.9 528.9,382.1 529.4,382.4 529.9,382.6 530.5,382.8 531,383.1 531.5,383.3 532,383.5 532.6,383.8 533.1,384 533.6,384.2 534.2,384.5 534.7,384.7 535.2,384.9 535.8,385.2 536.3,385.4 536.8,385.6 537.4,385.9 537.9,386.1 538.4,386.3 539,386.6 539.5,386.8 540,387.1 540.6,387.3 541.1,387.5 541.6,387.8 542.2,388 542.7,388.2 543.2,388.5 543.8,388.7 544.3,388.9 544.8,389.2 545.3,389.4 545.9,389.6 546.4,389.9 546.9,390.1 547.5,390.3 548,390.6 548.5,390.8 549.1,391 549.6,391.3 550.1,391.5 550.7,391.7 551.2,392 551.7,392.2 552.3,392.5 552.8,392.7 553.3,392.9 553.9,393.2 554.4,393.4 554.9,393.6 555.5,393.9 556,394.1 556.5,394.3 557.1,394.6 557.6,394.8 558.1,395 558.7,395.3 559.2,395.5 559.7,395.7 560.2,396 560.8,396.2 561.3,396.4 561.8,396.7 562.4,396.9 562.9,397.1 563.4,397.4 564,397.6 564.5,397.9 565,398.1 565.6,398.3 566.1,398.6 566.6,398.8 567.2,399 567.7,399.3 568.2,399.5 568.8,399.7 569.3,400 569.8,400.2 570.4,400.4 570.9,400.7 571.4,400.9 572,401.1 572.5,401.4 573,401.6 573.6,401.8 574.1,402.1 574.6,402.3 575.1,402.5 575.7,402.8 576.2,403 576.7,403.3 577.3,403.5 577.8,403.7 578.3,404 578.9,404.2 579.4,404.4 579.9,404.7 580.5,404.9 581,405.1 581.5,405.4 582.1,405.6 582.6,405.8 583.1,406.1 583.7,406.3 584.2,406.5 584.7,406.8 585.3,407 585.8,407.2 586.3,407.5 586.9,407.7 587.4,407.9 587.9,408.2 588.4,408.4 589,408.7 589.5,408.9 590,409.1 590.6,409.4 591.1,409.6 591.6,409.8 592.2,410.1 592.7,410.3 593.2,410.5 593.8,410.8 594.3,411 594.8,411.2 595.4,411.5 595.9,411.7 596.4,411.9 597,412.2 597.5,412.4 598,412.6 598.6,412.9 599.1,413.1 599.6,413.3 600.2,413.6 600.7,413.8 601.2,414.1 601.8,414.3 602.3,414.5 602.8,414.8 603.3,415 603.9,415.2 604.4,415.5 604.9,415.7 605.5,415.9 606,416.2 606.5,416.4 607.1,416.6 607.6,416.9 608.1,417.1 608.7,417.3 609.2,417.6 609.7,417.8 610.3,418 610.8,418.3 611.3,418.5 611.9,418.7 612.4,419 612.9,419.2 613.5,419.5 614,419.7 614.5,419.9 615.1,420.2 615.6,420.4 616.1,420.6 616.7,420.9 617.2,421.1 617.7,421.3 618.2,421.6 618.8,421.8 619.3,422 619.8,422.3 620.4,422.5 620.9,422.7 621.4,423 622,423.2 622.5,423.4 623,423.7 623.6,423.9 624.1,424.1 624.6,424.4 625.2,424.6 625.7,424.9 626.2,425.1 626.8,425.3 627.3,425.6 627.8,425.8 628.4,426 628.9,426.3 629.4,426.5 630,426.7 630.5,427 631,427.2 631.5,427.4 632.1,427.7 632.6,427.9 633.1,428.1 633.7,428.4 634.2,428.6 634.7,428.8 635.3,429.1 635.8,429.3 636.3,429.5 636.9,429.8 637.4,430 637.9,430.3 638.5,430.5 639,430.7 639.5,431 640.1,431.2 640.6,431.4 641.1,431.7 641.7,431.9 642.2,432.1 642.7,432.4 643.3,432.6 643.8,432.8 644.3,433.1 644.9,433.3 645.4,433.5 645.9,433.8 646.4,434 647,434.2 647.5,434.5 648,434.7 648.6,434.9 649.1,435.2 649.6,435.4 650.2,435.7 650.7,435.9 651.2,436.1 651.8,436.4 652.3,436.6 652.8,436.8 653.4,437.1 653.9,437.3 654.4,437.5 655,437.8 655.5,438 656,438.2 656.6,438.5 657.1,438.7 657.6,438.9 658.2,439.2 658.7,439.4 659.2,439.6 659.8,439.9 660.3,440.1 660.8,440.4 661.3,440.6 661.9,440.8 662.4,441.1 662.9,441.3 663.5,441.5 664,441.8 664.5,442 665.1,442.2 665.6,442.5 666.1,442.7 666.7,442.9 667.2,443.2" fill="none" stroke="#448526" stroke-width="4.2" stroke-linejoin="round" stroke-linecap="round"/>
<polyline points="135.6,313.2 136.2,285.8 136.7,271.7 137.2,262.7 137.8,256.4 138.3,251.5 138.8,247.7 139.4,244.6 139.9,242 140.4,239.8 141,237.9 141.5,236.2 142,234.7 142.5,233.5 143.1,232.3 143.6,231.3 144.1,230.4 144.7,229.6 145.2,228.8 145.7,228.2 146.3,227.6 146.8,227.1 147.3,226.6 147.9,226.1 148.4,225.8 148.9,225.4 149.5,225.1 150,224.8 150.5,224.6 151.1,224.3 151.6,224.1 152.1,224 152.7,223.8 153.2,223.7 153.7,223.6 154.3,223.5 154.8,223.4 155.3,223.4 155.9,223.3 156.4,223.3 156.9,223.3 157.4,223.3 158,223.3 158.5,223.3 159,223.3 159.6,223.4 160.1,223.4 160.6,223.5 161.2,223.6 161.7,223.6 162.2,223.7 162.8,223.8 163.3,223.9 163.8,224 164.4,224.1 164.9,224.2 165.4,224.3 166,224.5 166.5,224.6 167,224.7 167.6,224.9 168.1,225 168.6,225.2 169.2,225.3 169.7,225.5 170.2,225.6 170.8,225.8 171.3,226 171.8,226.1 172.3,226.3 172.9,226.5 173.4,226.6 173.9,226.8 174.5,227 175,227.2 175.5,227.4 176.1,227.6 176.6,227.7 177.1,227.9 177.7,228.1 178.2,228.3 178.7,228.5 179.3,228.7 179.8,228.9 180.3,229.1 180.9,229.3 181.4,229.5 181.9,229.7 182.5,229.9 183,230.1 183.5,230.4 184.1,230.6 184.6,230.8 185.1,231 185.6,231.2 186.2,231.4 186.7,231.6 187.2,231.8 187.8,232.1 188.3,232.3 188.8,232.5 189.4,232.7 189.9,232.9 190.4,233.2 191,233.4 191.5,233.6 192,233.8 192.6,234 193.1,234.3 193.6,234.5 194.2,234.7 194.7,234.9 195.2,235.2 195.8,235.4 196.3,235.6 196.8,235.8 197.4,236.1 197.9,236.3 198.4,236.5 199,236.7 199.5,237 200,237.2 200.5,237.4 201.1,237.6 201.6,237.9 202.1,238.1 202.7,238.3 203.2,238.6 203.7,238.8 204.3,239 204.8,239.2 205.3,239.5 205.9,239.7 206.4,239.9 206.9,240.2 207.5,240.4 208,240.6 208.5,240.9 209.1,241.1 209.6,241.3 210.1,241.6 210.7,241.8 211.2,242 211.7,242.3 212.3,242.5 212.8,242.7 213.3,242.9 213.9,243.2 214.4,243.4 214.9,243.6 215.4,243.9 216,244.1 216.5,244.3 217,244.6 217.6,244.8 218.1,245 218.6,245.3 219.2,245.5 219.7,245.7 220.2,246 220.8,246.2 221.3,246.4 221.8,246.7 222.4,246.9 222.9,247.1 223.4,247.4 224,247.6 224.5,247.8 225,248.1 225.6,248.3 226.1,248.5 226.6,248.8 227.2,249 227.7,249.2 228.2,249.5 228.7,249.7 229.3,250 229.8,250.2 230.3,250.4 230.9,250.7 231.4,250.9 231.9,251.1 232.5,251.4 233,251.6 233.5,251.8 234.1,252.1 234.6,252.3 235.1,252.5 235.7,252.8 236.2,253 236.7,253.2 237.3,253.5 237.8,253.7 238.3,253.9 238.9,254.2 239.4,254.4 239.9,254.6 240.5,254.9 241,255.1 241.5,255.3 242.1,255.6 242.6,255.8 243.1,256 243.6,256.3 244.2,256.5 244.7,256.7 245.2,257 245.8,257.2 246.3,257.5 246.8,257.7 247.4,257.9 247.9,258.2 248.4,258.4 249,258.6 249.5,258.9 250,259.1 250.6,259.3 251.1,259.6 251.6,259.8 252.2,260 252.7,260.3 253.2,260.5 253.8,260.7 254.3,261 254.8,261.2 255.4,261.4 255.9,261.7 256.4,261.9 257,262.1 257.5,262.4 258,262.6 258.5,262.8 259.1,263.1 259.6,263.3 260.1,263.6 260.7,263.8 261.2,264 261.7,264.3 262.3,264.5 262.8,264.7 263.3,265 263.9,265.2 264.4,265.4 264.9,265.7 265.5,265.9 266,266.1 266.5,266.4 267.1,266.6 267.6,266.8 268.1,267.1 268.7,267.3 269.2,267.5 269.7,267.8 270.3,268 270.8,268.2 271.3,268.5 271.8,268.7 272.4,269 272.9,269.2 273.4,269.4 274,269.7 274.5,269.9 275,270.1 275.6,270.4 276.1,270.6 276.6,270.8 277.2,271.1 277.7,271.3 278.2,271.5 278.8,271.8 279.3,272 279.8,272.2 280.4,272.5 280.9,272.7 281.4,272.9 282,273.2 282.5,273.4 283,273.6 283.6,273.9 284.1,274.1 284.6,274.4 285.2,274.6 285.7,274.8 286.2,275.1 286.7,275.3 287.3,275.5 287.8,275.8 288.3,276 288.9,276.2 289.4,276.5 289.9,276.7 290.5,276.9 291,277.2 291.5,277.4 292.1,277.6 292.6,277.9 293.1,278.1 293.7,278.3 294.2,278.6 294.7,278.8 295.3,279 295.8,279.3 296.3,279.5 296.9,279.8 297.4,280 297.9,280.2 298.5,280.5 299,280.7 299.5,280.9 300.1,281.2 300.6,281.4 301.1,281.6 301.6,281.9 302.2,282.1 302.7,282.3 303.2,282.6 303.8,282.8 304.3,283 304.8,283.3 305.4,283.5 305.9,283.7 306.4,284 307,284.2 307.5,284.4 308,284.7 308.6,284.9 309.1,285.2 309.6,285.4 310.2,285.6 310.7,285.9 311.2,286.1 311.8,286.3 312.3,286.6 312.8,286.8 313.4,287 313.9,287.3 314.4,287.5 314.9,287.7 315.5,288 316,288.2 316.5,288.4 317.1,288.7 317.6,288.9 318.1,289.1 318.7,289.4 319.2,289.6 319.7,289.8 320.3,290.1 320.8,290.3 321.3,290.6 321.9,290.8 322.4,291 322.9,291.3 323.5,291.5 324,291.7 324.5,292 325.1,292.2 325.6,292.4 326.1,292.7 326.7,292.9 327.2,293.1 327.7,293.4 328.3,293.6 328.8,293.8 329.3,294.1 329.8,294.3 330.4,294.5 330.9,294.8 331.4,295 332,295.2 332.5,295.5 333,295.7 333.6,296 334.1,296.2 334.6,296.4 335.2,296.7 335.7,296.9 336.2,297.1 336.8,297.4 337.3,297.6 337.8,297.8 338.4,298.1 338.9,298.3 339.4,298.5 340,298.8 340.5,299 341,299.2 341.6,299.5 342.1,299.7 342.6,299.9 343.2,300.2 343.7,300.4 344.2,300.6 344.7,300.9 345.3,301.1 345.8,301.4 346.3,301.6 346.9,301.8 347.4,302.1 347.9,302.3 348.5,302.5 349,302.8 349.5,303 350.1,303.2 350.6,303.5 351.1,303.7 351.7,303.9 352.2,304.2 352.7,304.4 353.3,304.6 353.8,304.9 354.3,305.1 354.9,305.3 355.4,305.6 355.9,305.8 356.5,306 357,306.3 357.5,306.5 358,306.8 358.6,307 359.1,307.2 359.6,307.5 360.2,307.7 360.7,307.9 361.2,308.2 361.8,308.4 362.3,308.6 362.8,308.9 363.4,309.1 363.9,309.3 364.4,309.6 365,309.8 365.5,310 366,310.3 366.6,310.5 367.1,310.7 367.6,311 368.2,311.2 368.7,311.4 369.2,311.7 369.8,311.9 370.3,312.2 370.8,312.4 371.4,312.6 371.9,312.9 372.4,313.1 372.9,313.3 373.5,313.6 374,313.8 374.5,314 375.1,314.3 375.6,314.5 376.1,314.7 376.7,315 377.2,315.2 377.7,315.4 378.3,315.7 378.8,315.9 379.3,316.1 379.9,316.4 380.4,316.6 380.9,316.8 381.5,317.1 382,317.3 382.5,317.6 383.1,317.8 383.6,318 384.1,318.3 384.7,318.5 385.2,318.7 385.7,319 386.3,319.2 386.8,319.4 387.3,319.7 387.8,319.9 388.4,320.1 388.9,320.4 389.4,320.6 390,320.8 390.5,321.1 391,321.3 391.6,321.5 392.1,321.8 392.6,322 393.2,322.2 393.7,322.5 394.2,322.7 394.8,323 395.3,323.2 395.8,323.4 396.4,323.7 396.9,323.9 397.4,324.1 398,324.4 398.5,324.6 399,324.8 399.6,325.1 400.1,325.3 400.6,325.5 401.1,325.8 401.7,326 402.2,326.2 402.7,326.5 403.3,326.7 403.8,326.9 404.3,327.2 404.9,327.4 405.4,327.6 405.9,327.9 406.5,328.1 407,328.4 407.5,328.6 408.1,328.8 408.6,329.1 409.1,329.3 409.7,329.5 410.2,329.8 410.7,330 411.3,330.2 411.8,330.5 412.3,330.7 412.9,330.9 413.4,331.2 413.9,331.4 414.5,331.6 415,331.9 415.5,332.1 416,332.3 416.6,332.6 417.1,332.8 417.6,333 418.2,333.3 418.7,333.5 419.2,333.8 419.8,334 420.3,334.2 420.8,334.5 421.4,334.7 421.9,334.9 422.4,335.2 423,335.4 423.5,335.6 424,335.9 424.6,336.1 425.1,336.3 425.6,336.6 426.2,336.8 426.7,337 427.2,337.3 427.8,337.5 428.3,337.7 428.8,338 429.4,338.2 429.9,338.4 430.4,338.7 430.9,338.9 431.5,339.2 432,339.4 432.5,339.6 433.1,339.9 433.6,340.1 434.1,340.3 434.7,340.6 435.2,340.8 435.7,341 436.3,341.3 436.8,341.5 437.3,341.7 437.9,342 438.4,342.2 438.9,342.4 439.5,342.7 440,342.9 440.5,343.1 441.1,343.4 441.6,343.6 442.1,343.8 442.7,344.1 443.2,344.3 443.7,344.6 444.3,344.8 444.8,345 445.3,345.3 445.8,345.5 446.4,345.7 446.9,346 447.4,346.2 448,346.4 448.5,346.7 449,346.9 449.6,347.1 450.1,347.4 450.6,347.6 451.2,347.8 451.7,348.1 452.2,348.3 452.8,348.5 453.3,348.8 453.8,349 454.4,349.3 454.9,349.5 455.4,349.7 456,350 456.5,350.2 457,350.4 457.6,350.7 458.1,350.9 458.6,351.1 459.1,351.4 459.7,351.6 460.2,351.8 460.7,352.1 461.3,352.3 461.8,352.5 462.3,352.8 462.9,353 463.4,353.2 463.9,353.5 464.5,353.7 465,353.9 465.5,354.2 466.1,354.4 466.6,354.7 467.1,354.9 467.7,355.1 468.2,355.4 468.7,355.6 469.3,355.8 469.8,356.1 470.3,356.3 470.9,356.5 471.4,356.8 471.9,357 472.5,357.2 473,357.5 473.5,357.7 474,357.9 474.6,358.2 475.1,358.4 475.6,358.6 476.2,358.9 476.7,359.1 477.2,359.3 477.8,359.6 478.3,359.8 478.8,360.1 479.4,360.3 479.9,360.5 480.4,360.8 481,361 481.5,361.2 482,361.5 482.6,361.7 483.1,361.9 483.6,362.2 484.2,362.4 484.7,362.6 485.2,362.9 485.8,363.1 486.3,363.3 486.8,363.6 487.4,363.8 487.9,364 488.4,364.3 488.9,364.5 489.5,364.7 490,365 490.5,365.2 491.1,365.5 491.6,365.7 492.1,365.9 492.7,366.2 493.2,366.4 493.7,366.6 494.3,366.9 494.8,367.1 495.3,367.3 495.9,367.6 496.4,367.8 496.9,368 497.5,368.3 498,368.5 498.5,368.7 499.1,369 499.6,369.2 500.1,369.4 500.7,369.7 501.2,369.9 501.7,370.1 502.2,370.4 502.8,370.6 503.3,370.9 503.8,371.1 504.4,371.3 504.9,371.6 505.4,371.8 506,372 506.5,372.3 507,372.5 507.6,372.7 508.1,373 508.6,373.2 509.2,373.4 509.7,373.7 510.2,373.9 510.8,374.1 511.3,374.4 511.8,374.6 512.4,374.8 512.9,375.1 513.4,375.3 514,375.5 514.5,375.8 515,376 515.6,376.3 516.1,376.5 516.6,376.7 517.1,377 517.7,377.2 518.2,377.4 518.7,377.7 519.3,377.9 519.8,378.1 520.3,378.4 520.9,378.6 521.4,378.8 521.9,379.1 522.5,379.3 523,379.5 523.5,379.8 524.1,380 524.6,380.2 525.1,380.5 525.7,380.7 526.2,380.9 526.7,381.2 527.3,381.4 527.8,381.7 528.3,381.9 528.9,382.1 529.4,382.4 529.9,382.6 530.5,382.8 531,383.1 531.5,383.3 532,383.5 532.6,383.8 533.1,384 533.6,384.2 534.2,384.5 534.7,384.7 535.2,384.9 535.8,385.2 536.3,385.4 536.8,385.6 537.4,385.9 537.9,386.1 538.4,386.3 539,386.6 539.5,386.8 540,387.1 540.6,387.3 541.1,387.5 541.6,387.8 542.2,388 542.7,388.2 543.2,388.5 543.8,388.7 544.3,388.9 544.8,389.2 545.3,389.4 545.9,389.6 546.4,389.9 546.9,390.1 547.5,390.3 548,390.6 548.5,390.8 549.1,391 549.6,391.3 550.1,391.5 550.7,391.7 551.2,392 551.7,392.2 552.3,392.5 552.8,392.7 553.3,392.9 553.9,393.2 554.4,393.4 554.9,393.6 555.5,393.9 556,394.1 556.5,394.3 557.1,394.6 557.6,394.8 558.1,395 558.7,395.3 559.2,395.5 559.7,395.7 560.2,396 560.8,396.2 561.3,396.4 561.8,396.7 562.4,396.9 562.9,397.1 563.4,397.4 564,397.6 564.5,397.9 565,398.1 565.6,398.3 566.1,398.6 566.6,398.8 567.2,399 567.7,399.3 568.2,399.5 568.8,399.7 569.3,400 569.8,400.2 570.4,400.4 570.9,400.7 571.4,400.9 572,401.1 572.5,401.4 573,401.6 573.6,401.8 574.1,402.1 574.6,402.3 575.1,402.5 575.7,402.8 576.2,403 576.7,403.3 577.3,403.5 577.8,403.7 578.3,404 578.9,404.2 579.4,404.4 579.9,404.7 580.5,404.9 581,405.1 581.5,405.4 582.1,405.6 582.6,405.8 583.1,406.1 583.7,406.3 584.2,406.5 584.7,406.8 585.3,407 585.8,407.2 586.3,407.5 586.9,407.7 587.4,407.9 587.9,408.2 588.4,408.4 589,408.7 589.5,408.9 590,409.1 590.6,409.4 591.1,409.6 591.6,409.8 592.2,410.1 592.7,410.3 593.2,410.5 593.8,410.8 594.3,411 594.8,411.2 595.4,411.5 595.9,411.7 596.4,411.9 597,412.2 597.5,412.4 598,412.6 598.6,412.9 599.1,413.1 599.6,413.3 600.2,413.6 600.7,413.8 601.2,414.1 601.8,414.3 602.3,414.5 602.8,414.8 603.3,415 603.9,415.2 604.4,415.5 604.9,415.7 605.5,415.9 606,416.2 606.5,416.4 607.1,416.6 607.6,416.9 608.1,417.1 608.7,417.3 609.2,417.6 609.7,417.8 610.3,418 610.8,418.3 611.3,418.5 611.9,418.7 612.4,419 612.9,419.2 613.5,419.5 614,419.7 614.5,419.9 615.1,420.2 615.6,420.4 616.1,420.6 616.7,420.9 617.2,421.1 617.7,421.3 618.2,421.6 618.8,421.8 619.3,422 619.8,422.3 620.4,422.5 620.9,422.7 621.4,423 622,423.2 622.5,423.4 623,423.7 623.6,423.9 624.1,424.1 624.6,424.4 625.2,424.6 625.7,424.9 626.2,425.1 626.8,425.3 627.3,425.6 627.8,425.8 628.4,426 628.9,426.3 629.4,426.5 630,426.7 630.5,427 631,427.2 631.5,427.4 632.1,427.7 632.6,427.9 633.1,428.1 633.7,428.4 634.2,428.6 634.7,428.8 635.3,429.1 635.8,429.3 636.3,429.5 636.9,429.8 637.4,430 637.9,430.3 638.5,430.5 639,430.7 639.5,431 640.1,431.2 640.6,431.4 641.1,431.7 641.7,431.9 642.2,432.1 642.7,432.4 643.3,432.6 643.8,432.8 644.3,433.1 644.9,433.3 645.4,433.5 645.9,433.8 646.4,434 647,434.2 647.5,434.5 648,434.7 648.6,434.9 649.1,435.2 649.6,435.4 650.2,435.7 650.7,435.9 651.2,436.1 651.8,436.4 652.3,436.6 652.8,436.8 653.4,437.1 653.9,437.3 654.4,437.5 655,437.8 655.5,438 656,438.2 656.6,438.5 657.1,438.7 657.6,438.9 658.2,439.2 658.7,439.4 659.2,439.6 659.8,439.9 660.3,440.1 660.8,440.4 661.3,440.6 661.9,440.8 662.4,441.1 662.9,441.3 663.5,441.5 664,441.8 664.5,442 665.1,442.2 665.6,442.5 666.1,442.7 666.7,442.9 667.2,443.2" fill="none" stroke="#3a731e" stroke-width="0.8" stroke-linejoin="round"/>
<polyline points="135.1,700 136.2,327.8 136.7,311.8 137.2,301.6 137.8,295.1 138.3,289.4 138.8,284.2 139.4,282.3 139.9,278.9 140.4,277.8 141,274.9 141.5,273.8 142,272.3 142.5,270.7 143.1,268.6 143.6,268.9 144.1,268.3 144.7,268.5 145.2,266 145.7,266.1 146.3,264.1 146.8,264.4 147.3,261.6 147.9,266.1 148.4,263.5 148.9,261.3 149.5,263.1 150,262.9 150.5,261.7 151.1,263.5 151.6,260.3 152.1,255.7 152.7,257.9 153.2,261.3 153.7,260.5 154.3,259.9 154.8,257.1 155.3,260.1 155.9,259.9 156.4,256.7 156.9,256.9 157.4,258.9 158,260.3 158.5,260.8 159,259.7 159.6,262.8 160.1,257.4 160.6,259.8 161.2,257.7 161.7,255.6 162.2,257.5 162.8,261.6 163.3,258.5 163.8,258.2 164.4,261.7 164.9,261.8 165.4,260.5 166,263.2 166.5,258.4 167,265.5 167.6,262.9 168.1,261.8 168.6,261.8 169.2,261.2 169.7,261 170.2,261.8 170.8,259.9 171.3,265.9 171.8,262.8 172.3,263.6 172.9,262 173.4,262.2 173.9,263.6 174.5,263.3 175,260.8 175.5,262 176.1,264 176.6,259.8 177.1,259.3 177.7,266.3 178.2,264.3 178.7,260.7 179.3,264 179.8,265.2 180.3,265.6 180.9,266.5 181.4,266 181.9,266.8 182.5,264.5 183,267 183.5,267.5 184.1,268.8 184.6,267.1 185.1,268.9 185.6,268.2 186.2,266.3 186.7,268.1 187.2,267.7 187.8,268.4 188.3,268.5 188.8,268.5 189.4,269 189.9,267.3 190.4,270.7 191,267.8 191.5,270.3 192,271.7 192.6,272 193.1,272.4 193.6,271.6 194.2,273.1 194.7,270.5 195.2,274 195.8,276.4 196.3,274.4 196.8,276.5 197.4,272.8 197.9,271.2 198.4,272 199,275.9 199.5,275.4 200,271.1 200.5,273.8 201.1,274.5 201.6,272.7 202.1,270.4 202.7,273 203.2,274.4 203.7,274.5 204.3,273.6 204.8,276.1 205.3,277.1 205.9,275.7 206.4,277.8 206.9,276.1 207.5,276.5 208,273.3 208.5,279.3 209.1,278.4 209.6,278.3 210.1,277.4 210.7,277.1 211.2,279.8 211.7,280.2 212.3,282 212.8,280.9 213.3,278.5 213.9,280.3 214.4,282.1 214.9,281.5 215.4,281 216,280.5 216.5,282.4 217,282 217.6,284.9 218.1,284.2 218.6,280 219.2,286 219.7,283 220.2,282.6 220.8,283.7 221.3,284.6 221.8,283.7 222.4,284 222.9,284.1 223.4,287.4 224,284.6 224.5,285.3 225,285 225.6,283.8 226.1,283.5 226.6,283.5 227.2,285.9 227.7,283.4 228.2,283.2 228.7,283.1 229.3,282.5 229.8,285.4 230.3,285.4 230.9,284.1 231.4,287.7 231.9,285.4 232.5,286.6 233,286.6 233.5,288.9 234.1,287.2 234.6,285.6 235.1,284.8 235.7,285.4 236.2,287.4 236.7,287.9 237.3,288.9 237.8,287.1 238.3,289 238.9,288.3 239.4,286.6 239.9,290.1 240.5,293.1 241,292.4 241.5,293.8 242.1,294.3 242.6,290 243.1,292.5 243.6,296.2 244.2,292.8 244.7,292.5 245.2,295.8 245.8,296.5 246.3,295.9 246.8,295.5 247.4,295.1 247.9,294.4 248.4,294.9 249,294.8 249.5,294.1 250,295.1 250.6,299.4 251.1,297 251.6,296.5 252.2,297.7 252.7,295.7 253.2,298.2 253.8,299 254.3,294.8 254.8,296.5 255.4,297.5 255.9,296.4 256.4,296.2 257,298 257.5,302.9 258,300.4 258.5,301.1 259.1,302.1 259.6,300.1 260.1,298.7 260.7,302.6 261.2,303.8 261.7,298.6 262.3,303 262.8,304.6 263.3,302 263.9,301.8 264.4,303.9 264.9,301.4 265.5,303.8 266,305 266.5,303.5 267.1,302.9 267.6,304.7 268.1,303.4 268.7,304 269.2,298.5 269.7,304.9 270.3,301.5 270.8,303.8 271.3,304 271.8,302.4 272.4,302.5 272.9,302.8 273.4,304.6 274,306.4 274.5,306.5 275,305.4 275.6,305.7 276.1,304.6 276.6,306 277.2,305.2 277.7,304.5 278.2,306.9 278.8,309.8 279.3,309.6 279.8,310.7 280.4,305.1 280.9,309.6 281.4,306.5 282,307.5 282.5,306 283,307.5 283.6,309 284.1,309.6 284.6,309.3 285.2,309 285.7,310.1 286.2,309.4 286.7,306.9 287.3,313.2 287.8,309.8 288.3,311.9 288.9,310.7 289.4,309.7 289.9,311.7 290.5,310.1 291,314.5 291.5,310.5 292.1,313.9 292.6,312.2 293.1,313.2 293.7,318.6 294.2,315.7 294.7,314.4 295.3,312.2 295.8,315.1 296.3,315.4 296.9,318.1 297.4,313.5 297.9,313 298.5,316.6 299,317.4 299.5,320.3 300.1,316.1 300.6,312.5 301.1,316.1 301.6,315.7 302.2,317.3 302.7,320 303.2,316.5 303.8,321.4 304.3,319.2 304.8,318.8 305.4,317.5 305.9,318.4 306.4,318.5 307,320.7 307.5,321.7 308,319.6 308.6,321.1 309.1,322.8 309.6,322.9 310.2,321.2 310.7,323.7 311.2,323.8 311.8,324.6 312.3,321.8 312.8,321.4 313.4,319 313.9,324.9 314.4,323.4 314.9,321.3 315.5,323.2 316,323.9 316.5,321 317.1,324.7 317.6,326 318.1,326.8 318.7,324.2 319.2,324.7 319.7,327.4 320.3,327.4 320.8,325.8 321.3,326 321.9,327.9 322.4,325.8 322.9,326.4 323.5,330.8 324,328.6 324.5,327.5 325.1,329 325.6,331.8 326.1,329 326.7,327.8 327.2,326.6 327.7,333.5 328.3,326.2 328.8,332.9 329.3,329.9 329.8,329 330.4,329.5 330.9,330.5 331.4,332.7 332,330 332.5,332.7 333,336.1 333.6,326.9 334.1,330.9 334.6,329.5 335.2,334.3 335.7,331.1 336.2,331.1 336.8,331 337.3,334 337.8,336.4 338.4,334.8 338.9,338.1 339.4,337.6 340,334.3 340.5,336.6 341,336 341.6,336.6 342.1,333.1 342.6,334.4 343.2,337.3 343.7,335 344.2,338.4 344.7,337.3 345.3,335.1 345.8,339.3 346.3,338.1 346.9,339.5 347.4,337.6 347.9,334.5 348.5,338.7 349,337.3 349.5,340 350.1,340.6 350.6,341 351.1,337 351.7,335.2 352.2,338.3 352.7,341 353.3,339.1 353.8,340.7 354.3,339.3 354.9,340.7 355.4,341.5 355.9,341.1 356.5,343.6 357,343.5 357.5,346.6 358,344.4 358.6,347.1 359.1,345 359.6,346.8 360.2,345.1 360.7,344.4 361.2,348.2 361.8,346.7 362.3,347.6 362.8,345 363.4,343.4 363.9,345.1 364.4,347.2 365,344.4 365.5,349.4 366,344.3 366.6,348.4 367.1,352 367.6,342.7 368.2,344.5 368.7,349.6 369.2,347.5 369.8,348.8 370.3,348.1 370.8,351.1 371.4,350.6 371.9,348.8 372.4,349.5 372.9,348.3 373.5,350.8 374,347.3 374.5,352.8 375.1,351.4 375.6,355.5 376.1,354.9 376.7,350.6 377.2,354.6 377.7,352.2 378.3,353.7 378.8,356.1 379.3,355.4 379.9,355.5 380.4,355.3 380.9,353.6 381.5,353.7 382,355.6 382.5,356.3 383.1,354.4 383.6,355.1 384.1,353.6 384.7,351.1 385.2,354.5 385.7,356.1 386.3,356.2 386.8,357.6 387.3,358.4 387.8,358.7 388.4,357.7 388.9,358.4 389.4,356.3 390,358.3 390.5,358.4 391,360.5 391.6,356 392.1,358.5 392.6,356.8 393.2,358.4 393.7,357.8 394.2,360.8 394.8,359.2 395.3,356.3 395.8,363 396.4,359.3 396.9,358.9 397.4,361.1 398,360.7 398.5,360 399,363.8 399.6,361.3 400.1,363.4 400.6,363.1 401.1,363.6 401.7,362.8 402.2,362.6 402.7,362.1 403.3,365.4 403.8,360.3 404.3,362 404.9,362.9 405.4,364.8 405.9,364.2 406.5,363.4 407,364 407.5,368 408.1,364.1 408.6,360.2 409.1,368.7 409.7,364.3 410.2,365.9 410.7,367.8 411.3,365.5 411.8,370.1 412.3,368.5 412.9,366.3 413.4,369.2 413.9,369.8 414.5,369 415,370.4 415.5,367.4 416,372.1 416.6,369.3 417.1,373 417.6,370 418.2,371.4 418.7,375.8 419.2,371.7 419.8,373.8 420.3,372.5 420.8,369.7 421.4,374.2 421.9,374.1 422.4,369.8 423,371.8 423.5,369.7 424,372.2 424.6,374.3 425.1,372.9 425.6,370.8 426.2,371.6 426.7,373.3 427.2,373.1 427.8,373.4 428.3,374.1 428.8,370.3 429.4,373.8 429.9,376 430.4,375.6 430.9,373.7 431.5,374.1 432,376.1 432.5,377.5 433.1,376.3 433.6,379.6 434.1,379 434.7,375.1 435.2,377.3 435.7,376.2 436.3,375.1 436.8,376.2 437.3,377.9 437.9,374.6 438.4,377.5 438.9,379.6 439.5,377.3 440,378.5 440.5,380.9 441.1,378.8 441.6,379.4 442.1,382.1 442.7,378.8 443.2,379.2 443.7,379.9 444.3,382.4 444.8,380.8 445.3,380.8 445.8,381.2 446.4,383.5 446.9,381 447.4,384.2 448,382.7 448.5,380.6 449,384.9 449.6,384.9 450.1,382.4 450.6,384.9 451.2,385.2 451.7,384.7 452.2,383.4 452.8,390.2 453.3,388.2 453.8,388.5 454.4,388.8 454.9,388 455.4,387.6 456,385.9 456.5,388.1 457,386.5 457.6,385.9 458.1,388.1 458.6,386.4 459.1,383.4 459.7,385.4 460.2,387.3 460.7,386.7 461.3,388.1 461.8,386.2 462.3,385 462.9,388.6 463.4,387.2 463.9,385.1 464.5,388.1 465,387.1 465.5,390.2 466.1,390.5 466.6,390.2 467.1,386.1 467.7,391.3 468.2,391.3 468.7,391.5 469.3,391.2 469.8,390.6 470.3,391.3 470.9,388.4 471.4,391.6 471.9,390.2 472.5,392.7 473,392.6 473.5,396.3 474,394.1 474.6,394.1 475.1,395.1 475.6,398.8 476.2,393.6 476.7,395.5 477.2,396.1 477.8,396 478.3,395.5 478.8,394.4 479.4,397.1 479.9,396.9 480.4,394.8 481,395.2 481.5,396.3 482,397.4 482.6,397.8 483.1,396.4 483.6,394.8 484.2,399 484.7,395.4 485.2,396.7 485.8,399.1 486.3,397.3 486.8,401.2 487.4,401.9 487.9,401.4 488.4,399.9 488.9,400.5 489.5,401.6 490,401.5 490.5,405.3 491.1,401.1 491.6,405.2 492.1,404.2 492.7,403.8 493.2,405.2 493.7,406.3 494.3,405.9 494.8,404.2 495.3,402.4 495.9,402.6 496.4,405.4 496.9,405.1 497.5,405.1 498,403.2 498.5,407.7 499.1,402.2 499.6,405 500.1,405.5 500.7,403.7 501.2,402.6 501.7,403.6 502.2,402.3 502.8,403.8 503.3,402.6 503.8,402.8 504.4,405 504.9,402.3 505.4,404.5 506,405.5 506.5,408.1 507,407.1 507.6,405.9 508.1,410.2 508.6,407.2 509.2,408 509.7,409.2 510.2,413.5 510.8,410.2 511.3,408.8 511.8,411.4 512.4,410.6 512.9,415.6 513.4,411 514,413.3 514.5,411.2 515,416 515.6,412.5 516.1,414.4 516.6,413.1 517.1,415.8 517.7,415.7 518.2,410.9 518.7,416.3 519.3,416.3 519.8,415.9 520.3,417.3 520.9,414 521.4,413 521.9,417.1 522.5,419.3 523,414.4 523.5,414.5 524.1,414.7 524.6,414.1 525.1,417.6 525.7,416.8 526.2,418.6 526.7,419 527.3,414.9 527.8,418.2 528.3,413.5 528.9,416.9 529.4,418.3 529.9,416 530.5,414.3 531,416.2 531.5,419.6 532,417.6 532.6,416.4 533.1,420.1 533.6,420.9 534.2,417.6 534.7,419.8 535.2,422.1 535.8,421.2 536.3,421.7 536.8,420.6 537.4,421.2 537.9,419.8 538.4,420.4 539,424.2 539.5,421.3 540,421.1 540.6,421.8 541.1,421.3 541.6,424.5 542.2,425.1 542.7,422.3 543.2,426.6 543.8,428.8 544.3,424 544.8,427.8 545.3,427.1 545.9,429.1 546.4,428.7 546.9,429 547.5,427.8 548,426.8 548.5,431.7 549.1,427.2 549.6,430.8 550.1,431.3 550.7,428.7 551.2,430.2 551.7,432.9 552.3,427.1 552.8,432 553.3,430 553.9,429.8 554.4,427.6 554.9,430.6 555.5,428.1 556,431.3 556.5,428.8 557.1,432.6 557.6,432.2 558.1,428.2 558.7,431.2 559.2,431.2 559.7,427.5 560.2,431.3 560.8,433.8 561.3,431 561.8,434.7 562.4,431.2 562.9,431.3 563.4,434.8 564,435.1 564.5,434.1 565,435 565.6,436.8 566.1,433.8 566.6,438.9 567.2,436.1 567.7,436.5 568.2,436.2 568.8,435.8 569.3,438.4 569.8,436 570.4,437.8 570.9,438.7 571.4,439.9 572,440.3 572.5,438.2 573,440.6 573.6,439.1 574.1,437.5 574.6,438.3 575.1,437.6 575.7,440.8 576.2,442.5 576.7,439.8 577.3,441.2 577.8,439.8 578.3,441.8 578.9,440.5 579.4,441.3 579.9,441.3 580.5,441.8 581,441.7 581.5,442.1 582.1,442 582.6,440.6 583.1,443.1 583.7,438.8 584.2,442 584.7,440.5 585.3,442.2 585.8,442.5 586.3,438.7 586.9,443.2 587.4,445.5 587.9,444.6 588.4,444.3 589,440.2 589.5,443.1 590,441.9 590.6,445.5 591.1,443.8 591.6,443.6 592.2,441.3 592.7,445.8 593.2,443.6 593.8,444.3 594.3,446.9 594.8,445.9 595.4,446.4 595.9,450 596.4,445.2 597,445.9 597.5,447.6 598,449 598.6,444.4 599.1,446.7 599.6,446 600.2,445.9 600.7,449.2 601.2,447.6 601.8,449.5 602.3,449.4 602.8,450.5 603.3,450.7 603.9,449.3 604.4,451 604.9,451.6 605.5,451.4 606,450.6 606.5,452.8 607.1,452.6 607.6,451.9 608.1,452.7 608.7,452.4 609.2,453.3 609.7,449 610.3,449.8 610.8,451.5 611.3,453 611.9,449.1 612.4,452.3 612.9,453.3 613.5,452.6 614,452.9 614.5,451.6 615.1,454.3 615.6,451.3 616.1,457 616.7,454.5 617.2,457.6 617.7,453.2 618.2,457.2 618.8,457.4 619.3,455.4 619.8,455.6 620.4,459.6 620.9,459 621.4,461.3 622,458.5 622.5,459.2 623,460.4 623.6,461.3 624.1,460.9 624.6,461.3 625.2,459 625.7,457.7 626.2,463.8 626.8,461.1 627.3,461.8 627.8,460.7 628.4,463.4 628.9,462.3 629.4,463.9 630,461.5 630.5,462.6 631,463.6 631.5,462.5 632.1,463.5 632.6,466.1 633.1,462.3 633.7,462.6 634.2,463 634.7,461.7 635.3,461.6 635.8,465.8 636.3,465.1 636.9,461.2 637.4,462 637.9,466.2 638.5,467 639,466 639.5,465.7 640.1,467.8 640.6,465.2 641.1,467.4 641.7,467.4 642.2,464 642.7,467.6 643.3,466.8 643.8,466.4 644.3,466.2 644.9,469 645.4,468.6 645.9,470.4 646.4,466.4 647,469.2 647.5,473.2 648,471.1 648.6,469.8 649.1,470.3 649.6,468.5 650.2,469.4 650.7,472.9 651.2,472.5 651.8,474.8 652.3,472.1 652.8,472.9 653.4,468.3 653.9,473.1 654.4,476.8 655,475.1 655.5,473.7 656,476.1 656.6,475.7 657.1,475 657.6,473.8 658.2,474.4 658.7,476 659.2,473 659.8,475.6 660.3,475.3 660.8,477.1 661.3,476.5 661.9,474.3 662.4,478.5 662.9,476.3 663.5,475.1 664,477.2 664.5,476.8 665.1,479.4 665.6,475.8 666.1,476.6 666.7,478.4 667.2,482.3" fill="none" stroke="#e8961e" stroke-width="3" stroke-linejoin="round" marker-mid="url(#mDA)" marker-end="url(#mDA)"/>
<polyline points="135.1,700 135.6,355.1 136.2,301.7 136.7,273.5 137.2,254.9 137.8,241.3 138.3,230.6 138.8,222 139.4,214.7 139.9,208.4 140.4,203 141,198.1 141.5,193.8 142,189.9 142.5,186.3 143.1,183.1 143.6,180.1 144.1,177.3 144.7,174.7 145.2,172.3 145.7,170 146.3,167.9 146.8,165.9 147.3,164 147.9,162.2 148.4,160.5 148.9,158.9 149.5,157.4 150,156 150.5,154.6 151.1,153.2 151.6,152 152.1,150.8 152.7,149.6 153.2,148.5 153.7,147.4 154.3,146.3 154.8,145.4 155.3,144.4 155.9,143.5 156.4,142.6 156.9,141.7 157.4,140.9 158,140.1 158.5,139.3 159,138.5 159.6,137.8 160.1,137.1 160.6,136.4 161.2,135.7 161.7,135.1 162.2,134.4 162.8,133.8 163.3,133.2 163.8,132.6 164.4,132.1 164.9,131.5 165.4,131 166,130.5 166.5,130 167,129.5 167.6,129 168.1,128.5 168.6,128.1 169.2,127.6 169.7,127.2 170.2,126.7 170.8,126.3 171.3,125.9 171.8,125.5 172.3,125.1 172.9,124.8 173.4,124.4 173.9,124 174.5,123.7 175,123.3 175.5,123 176.1,122.6 176.6,122.3 177.1,122 177.7,121.7 178.2,121.4 178.7,121.1 179.3,120.8 179.8,120.5 180.3,120.2 180.9,119.9 181.4,119.7 181.9,119.4 182.5,119.1 183,118.9 183.5,118.6 184.1,118.4 184.6,118.1 185.1,117.9 185.6,117.7 186.2,117.4 186.7,117.2 187.2,117 187.8,116.8 188.3,116.5 188.8,116.3 189.4,116.1 189.9,115.9 190.4,115.7 191,115.5 191.5,115.3 192,115.1 192.6,115 193.1,114.8 193.6,114.6 194.2,114.4 194.7,114.2 195.2,114.1 195.8,113.9 196.3,113.7 196.8,113.6 197.4,113.4 197.9,113.2 198.4,113.1 199,112.9 199.5,112.8 200,112.6 200.5,112.5 201.1,112.3 201.6,112.2 202.1,112 202.7,111.9 203.2,111.8 203.7,111.6 204.3,111.5 204.8,111.4 205.3,111.2 205.9,111.1 206.4,111 206.9,110.9 207.5,110.7 208,110.6 208.5,110.5 209.1,110.4 209.6,110.3 210.1,110.2 210.7,110.1 211.2,109.9 211.7,109.8 212.3,109.7 212.8,109.6 213.3,109.5 213.9,109.4 214.4,109.3 214.9,109.2 215.4,109.1 216,109 216.5,108.9 217,108.8 217.6,108.7 218.1,108.6 218.6,108.5 219.2,108.5 219.7,108.4 220.2,108.3 220.8,108.2 221.3,108.1 221.8,108 222.4,107.9 222.9,107.9 223.4,107.8 224,107.7 224.5,107.6 225,107.5 225.6,107.5 226.1,107.4 226.6,107.3 227.2,107.2 227.7,107.2 228.2,107.1 228.7,107 229.3,106.9 229.8,106.9 230.3,106.8 230.9,106.7 231.4,106.7 231.9,106.6 232.5,106.5 233,106.5 233.5,106.4 234.1,106.3 234.6,106.3 235.1,106.2 235.7,106.2 236.2,106.1 236.7,106 237.3,106 237.8,105.9 238.3,105.9 238.9,105.8 239.4,105.8 239.9,105.7 240.5,105.6 241,105.6 241.5,105.5 242.1,105.5 242.6,105.4 243.1,105.4 243.6,105.3 244.2,105.3 244.7,105.2 245.2,105.2 245.8,105.1 246.3,105.1 246.8,105 247.4,105 247.9,104.9 248.4,104.9 249,104.8 249.5,104.8 250,104.8 250.6,104.7 251.1,104.7 251.6,104.6 252.2,104.6 252.7,104.5 253.2,104.5 253.8,104.5 254.3,104.4 254.8,104.4 255.4,104.3 255.9,104.3 256.4,104.3 257,104.2 257.5,104.2 258,104.1 258.5,104.1 259.1,104.1 259.6,104 260.1,104 260.7,104 261.2,103.9 261.7,103.9 262.3,103.9 262.8,103.8 263.3,103.8 263.9,103.8 264.4,103.7 264.9,103.7 265.5,103.7 266,103.6 266.5,103.6 267.1,103.6 267.6,103.5 268.1,103.5 268.7,103.5 269.2,103.4 269.7,103.4 270.3,103.4 270.8,103.4 271.3,103.3 271.8,103.3 272.4,103.3 272.9,103.2 273.4,103.2 274,103.2 274.5,103.2 275,103.1 275.6,103.1 276.1,103.1 276.6,103.1 277.2,103 277.7,103 278.2,103 278.8,103 279.3,102.9 279.8,102.9 280.4,102.9 280.9,102.9 281.4,102.8 282,102.8 282.5,102.8 283,102.8 283.6,102.7 284.1,102.7 284.6,102.7 285.2,102.7 285.7,102.7 286.2,102.6 286.7,102.6 287.3,102.6 287.8,102.6 288.3,102.6 288.9,102.5 289.4,102.5 289.9,102.5 290.5,102.5 291,102.5 291.5,102.4 292.1,102.4 292.6,102.4 293.1,102.4 293.7,102.4 294.2,102.3 294.7,102.3 295.3,102.3 295.8,102.3 296.3,102.3 296.9,102.2 297.4,102.2 297.9,102.2 298.5,102.2 299,102.2 299.5,102.2 300.1,102.1 300.6,102.1 301.1,102.1 301.6,102.1 302.2,102.1 302.7,102.1 303.2,102.1 303.8,102 304.3,102 304.8,102 305.4,102 305.9,102 306.4,102 307,102 307.5,101.9 308,101.9 308.6,101.9 309.1,101.9 309.6,101.9 310.2,101.9 310.7,101.9 311.2,101.8 311.8,101.8 312.3,101.8 312.8,101.8 313.4,101.8 313.9,101.8 314.4,101.8 314.9,101.8 315.5,101.7 316,101.7 316.5,101.7 317.1,101.7 317.6,101.7 318.1,101.7 318.7,101.7 319.2,101.7 319.7,101.6 320.3,101.6 320.8,101.6 321.3,101.6 321.9,101.6 322.4,101.6 322.9,101.6 323.5,101.6 324,101.6 324.5,101.6 325.1,101.5 325.6,101.5 326.1,101.5 326.7,101.5 327.2,101.5 327.7,101.5 328.3,101.5 328.8,101.5 329.3,101.5 329.8,101.5 330.4,101.4 330.9,101.4 331.4,101.4 332,101.4 332.5,101.4 333,101.4 333.6,101.4 334.1,101.4 334.6,101.4 335.2,101.4 335.7,101.4 336.2,101.3 336.8,101.3 337.3,101.3 337.8,101.3 338.4,101.3 338.9,101.3 339.4,101.3 340,101.3 340.5,101.3 341,101.3 341.6,101.3 342.1,101.3 342.6,101.3 343.2,101.2 343.7,101.2 344.2,101.2 344.7,101.2 345.3,101.2 345.8,101.2 346.3,101.2 346.9,101.2 347.4,101.2 347.9,101.2 348.5,101.2 349,101.2 349.5,101.2 350.1,101.2 350.6,101.2 351.1,101.1 351.7,101.1 352.2,101.1 352.7,101.1 353.3,101.1 353.8,101.1 354.3,101.1 354.9,101.1 355.4,101.1 355.9,101.1 356.5,101.1 357,101.1 357.5,101.1 358,101.1 358.6,101.1 359.1,101.1 359.6,101.1 360.2,101 360.7,101 361.2,101 361.8,101 362.3,101 362.8,101 363.4,101 363.9,101 364.4,101 365,101 365.5,101 366,101 366.6,101 367.1,101 367.6,101 368.2,101 368.7,101 369.2,101 369.8,101 370.3,101 370.8,101 371.4,100.9 371.9,100.9 372.4,100.9 372.9,100.9 373.5,100.9 374,100.9 374.5,100.9 375.1,100.9 375.6,100.9 376.1,100.9 376.7,100.9 377.2,100.9 377.7,100.9 378.3,100.9 378.8,100.9 379.3,100.9 379.9,100.9 380.4,100.9 380.9,100.9 381.5,100.9 382,100.9 382.5,100.9 383.1,100.9 383.6,100.9 384.1,100.9 384.7,100.9 385.2,100.8 385.7,100.8 386.3,100.8 386.8,100.8 387.3,100.8 387.8,100.8 388.4,100.8 388.9,100.8 389.4,100.8 390,100.8 390.5,100.8 391,100.8 391.6,100.8 392.1,100.8 392.6,100.8 393.2,100.8 393.7,100.8 394.2,100.8 394.8,100.8 395.3,100.8 395.8,100.8 396.4,100.8 396.9,100.8 397.4,100.8 398,100.8 398.5,100.8 399,100.8 399.6,100.8 400.1,100.8 400.6,100.8 401.1,100.8 401.7,100.8 402.2,100.8 402.7,100.8 403.3,100.8 403.8,100.7 404.3,100.7 404.9,100.7 405.4,100.7 405.9,100.7 406.5,100.7 407,100.7 407.5,100.7 408.1,100.7 408.6,100.7 409.1,100.7 409.7,100.7 410.2,100.7 410.7,100.7 411.3,100.7 411.8,100.7 412.3,100.7 412.9,100.7 413.4,100.7 413.9,100.7 414.5,100.7 415,100.7 415.5,100.7 416,100.7 416.6,100.7 417.1,100.7 417.6,100.7 418.2,100.7 418.7,100.7 419.2,100.7 419.8,100.7 420.3,100.7 420.8,100.7 421.4,100.7 421.9,100.7 422.4,100.7 423,100.7 423.5,100.7 424,100.7 424.6,100.7 425.1,100.7 425.6,100.7 426.2,100.7 426.7,100.7 427.2,100.7 427.8,100.7 428.3,100.7 428.8,100.7 429.4,100.7 429.9,100.7 430.4,100.7 430.9,100.7 431.5,100.7 432,100.7 432.5,100.6 433.1,100.6 433.6,100.6 434.1,100.6 434.7,100.6 435.2,100.6 435.7,100.6 436.3,100.6 436.8,100.6 437.3,100.6 437.9,100.6 438.4,100.6 438.9,100.6 439.5,100.6 440,100.6 440.5,100.6 441.1,100.6 441.6,100.6 442.1,100.6 442.7,100.6 443.2,100.6 443.7,100.6 444.3,100.6 444.8,100.6 445.3,100.6 445.8,100.6 446.4,100.6 446.9,100.6 447.4,100.6 448,100.6 448.5,100.6 449,100.6 449.6,100.6 450.1,100.6 450.6,100.6 451.2,100.6 451.7,100.6 452.2,100.6 452.8,100.6 453.3,100.6 453.8,100.6 454.4,100.6 454.9,100.6 455.4,100.6 456,100.6 456.5,100.6 457,100.6 457.6,100.6 458.1,100.6 458.6,100.6 459.1,100.6 459.7,100.6 460.2,100.6 460.7,100.6 461.3,100.6 461.8,100.6 462.3,100.6 462.9,100.6 463.4,100.6 463.9,100.6 464.5,100.6 465,100.6 465.5,100.6 466.1,100.6 466.6,100.6 467.1,100.6 467.7,100.6 468.2,100.6 468.7,100.6 469.3,100.6 469.8,100.6 470.3,100.6 470.9,100.6 471.4,100.6 471.9,100.6 472.5,100.6 473,100.6 473.5,100.6 474,100.6 474.6,100.6 475.1,100.6 475.6,100.6 476.2,100.6 476.7,100.6 477.2,100.6 477.8,100.6 478.3,100.6 478.8,100.6 479.4,100.6 479.9,100.6 480.4,100.6 481,100.6 481.5,100.6 482,100.6 482.6,100.6 483.1,100.6 483.6,100.6 484.2,100.6 484.7,100.6 485.2,100.6 485.8,100.6 486.3,100.6 486.8,100.6 487.4,100.6 487.9,100.6 488.4,100.6 488.9,100.6 489.5,100.6 490,100.6 490.5,100.6 491.1,100.6 491.6,100.6 492.1,100.6 492.7,100.6 493.2,100.6 493.7,100.5 494.3,100.5 494.8,100.5 495.3,100.5 495.9,100.5 496.4,100.5 496.9,100.5 497.5,100.5 498,100.5 498.5,100.5 499.1,100.5 499.6,100.5 500.1,100.5 500.7,100.5 501.2,100.5 501.7,100.5 502.2,100.5 502.8,100.5 503.3,100.5 503.8,100.5 504.4,100.5 504.9,100.5 505.4,100.5 506,100.5 506.5,100.5 507,100.5 507.6,100.5 508.1,100.5 508.6,100.5 509.2,100.5 509.7,100.5 510.2,100.5 510.8,100.5 511.3,100.5 511.8,100.5 512.4,100.5 512.9,100.5 513.4,100.5 514,100.5 514.5,100.5 515,100.5 515.6,100.5 516.1,100.5 516.6,100.5 517.1,100.5 517.7,100.5 518.2,100.5 518.7,100.5 519.3,100.5 519.8,100.5 520.3,100.5 520.9,100.5 521.4,100.5 521.9,100.5 522.5,100.5 523,100.5 523.5,100.5 524.1,100.5 524.6,100.5 525.1,100.5 525.7,100.5 526.2,100.5 526.7,100.5 527.3,100.5 527.8,100.5 528.3,100.5 528.9,100.5 529.4,100.5 529.9,100.5 530.5,100.5 531,100.5 531.5,100.5 532,100.5 532.6,100.5 533.1,100.5 533.6,100.5 534.2,100.5 534.7,100.5 535.2,100.5 535.8,100.5 536.3,100.5 536.8,100.5 537.4,100.5 537.9,100.5 538.4,100.5 539,100.5 539.5,100.5 540,100.5 540.6,100.5 541.1,100.5 541.6,100.5 542.2,100.5 542.7,100.5 543.2,100.5 543.8,100.5 544.3,100.5 544.8,100.5 545.3,100.5 545.9,100.5 546.4,100.5 546.9,100.5 547.5,100.5 548,100.5 548.5,100.5 549.1,100.5 549.6,100.5 550.1,100.5 550.7,100.5 551.2,100.5 551.7,100.5 552.3,100.5 552.8,100.5 553.3,100.5 553.9,100.5 554.4,100.5 554.9,100.5 555.5,100.5 556,100.5 556.5,100.5 557.1,100.5 557.6,100.5 558.1,100.5 558.7,100.5 559.2,100.5 559.7,100.5 560.2,100.5 560.8,100.5 561.3,100.5 561.8,100.5 562.4,100.5 562.9,100.5 563.4,100.5 564,100.5 564.5,100.5 565,100.5 565.6,100.5 566.1,100.5 566.6,100.5 567.2,100.5 567.7,100.5 568.2,100.5 568.8,100.5 569.3,100.5 569.8,100.5 570.4,100.5 570.9,100.5 571.4,100.5 572,100.5 572.5,100.5 573,100.5 573.6,100.5 574.1,100.5 574.6,100.5 575.1,100.5 575.7,100.5 576.2,100.5 576.7,100.5 577.3,100.5 577.8,100.5 578.3,100.5 578.9,100.5 579.4,100.5 579.9,100.5 580.5,100.5 581,100.5 581.5,100.5 582.1,100.5 582.6,100.5 583.1,100.5 583.7,100.5 584.2,100.5 584.7,100.5 585.3,100.5 585.8,100.5 586.3,100.5 586.9,100.5 587.4,100.5 587.9,100.5 588.4,100.5 589,100.5 589.5,100.5 590,100.5 590.6,100.5 591.1,100.5 591.6,100.5 592.2,100.5 592.7,100.5 593.2,100.5 593.8,100.5 594.3,100.5 594.8,100.5 595.4,100.5 595.9,100.5 596.4,100.5 597,100.5 597.5,100.5 598,100.5 598.6,100.5 599.1,100.5 599.6,100.5 600.2,100.5 600.7,100.5 601.2,100.5 601.8,100.5 602.3,100.5 602.8,100.5 603.3,100.5 603.9,100.5 604.4,100.5 604.9,100.5 605.5,100.5 606,100.5 606.5,100.5 607.1,100.5 607.6,100.5 608.1,100.5 608.7,100.5 609.2,100.5 609.7,100.5 610.3,100.5 610.8,100.5 611.3,100.5 611.9,100.5 612.4,100.5 612.9,100.5 613.5,100.5 614,100.5 614.5,100.5 615.1,100.5 615.6,100.5 616.1,100.5 616.7,100.5 617.2,100.5 617.7,100.5 618.2,100.5 618.8,100.5 619.3,100.5 619.8,100.5 620.4,100.5 620.9,100.5 621.4,100.5 622,100.5 622.5,100.5 623,100.5 623.6,100.5 624.1,100.5 624.6,100.5 625.2,100.5 625.7,100.5 626.2,100.5 626.8,100.5 627.3,100.5 627.8,100.5 628.4,100.5 628.9,100.5 629.4,100.5 630,100.5 630.5,100.5 631,100.5 631.5,100.5 632.1,100.5 632.6,100.5 633.1,100.5 633.7,100.5 634.2,100.5 634.7,100.5 635.3,100.5 635.8,100.5 636.3,100.5 636.9,100.5 637.4,100.5 637.9,100.5 638.5,100.5 639,100.5 639.5,100.5 640.1,100.5 640.6,100.5 641.1,100.5 641.7,100.5 642.2,100.5 642.7,100.5 643.3,100.5 643.8,100.5 644.3,100.5 644.9,100.5 645.4,100.5 645.9,100.5 646.4,100.5 647,100.5 647.5,100.5 648,100.5 648.6,100.5 649.1,100.5 649.6,100.5 650.2,100.5 650.7,100.5 651.2,100.5 651.8,100.5 652.3,100.5 652.8,100.5 653.4,100.5 653.9,100.5 654.4,100.5 655,100.5 655.5,100.5 656,100.5 656.6,100.5 657.1,100.5 657.6,100.5 658.2,100.5 658.7,100.5 659.2,100.5 659.8,100.5 660.3,100.5 660.8,100.5 661.3,100.5 661.9,100.5 662.4,100.5 662.9,100.5 663.5,100.5 664,100.5 664.5,100.5 665.1,100.5 665.6,100.5 666.1,100.5 666.7,100.5 667.2,100.5" fill="none" stroke="#db0000" stroke-width="3" stroke-linejoin="round" marker-mid="url(#mE)" marker-end="url(#mE)"/>
</g>
<rect x="109" y="82" width="584.8" height="419.6" fill="none" stroke="#303030" stroke-width="2.4" stroke-linejoin="round"/>
<path d="M101.4,497.19H109 M101.4,440.52H109 M101.4,383.85H109 M101.4,327.18H109 M101.4,270.51H109 M101.4,213.84H109 M101.4,157.17H109 M101.4,100.50H109 M135.10,501.6V509.40000000000003 M241.52,501.6V509.40000000000003 M347.94,501.6V509.40000000000003 M454.36,501.6V509.40000000000003 M560.78,501.6V509.40000000000003 M667.20,501.6V509.40000000000003" stroke="#303030" stroke-width="2.0" fill="none"/>
<path d="M104,499.78H109 M104,480.13H109 M104,470.15H109 M104,463.07H109 M104,457.58H109 M104,453.09H109 M104,449.30H109 M104,446.01H109 M104,443.11H109 M104,423.46H109 M104,413.48H109 M104,406.40H109 M104,400.91H109 M104,396.42H109 M104,392.63H109 M104,389.34H109 M104,386.44H109 M104,366.79H109 M104,356.81H109 M104,349.73H109 M104,344.24H109 M104,339.75H109 M104,335.96H109 M104,332.67H109 M104,329.77H109 M104,310.12H109 M104,300.14H109 M104,293.06H109 M104,287.57H109 M104,283.08H109 M104,279.29H109 M104,276.00H109 M104,273.10H109 M104,253.45H109 M104,243.47H109 M104,236.39H109 M104,230.90H109 M104,226.41H109 M104,222.62H109 M104,219.33H109 M104,216.43H109 M104,196.78H109 M104,186.80H109 M104,179.72H109 M104,174.23H109 M104,169.74H109 M104,165.95H109 M104,162.66H109 M104,159.76H109 M104,140.11H109 M104,130.13H109 M104,123.05H109 M104,117.56H109 M104,113.07H109 M104,109.28H109 M104,105.99H109 M104,103.09H109 M104,83.44H109" stroke="#303030" stroke-width="1.25" fill="none"/>
<path transform="translate(55.85,506.69) scale(0.01294,-0.01294)" d="M763,0L583,0L583,1147Q518,1085 412.5,1023Q307,961 223,930L223,1104Q374,1175 487,1276Q600,1377 647,1472L763,1472Z" fill="#111"/>
<text x="70.59" y="506.69" font-size="26.5" fill="#111">0</text>
<text x="85.32" y="498.69" font-size="16.5" fill="#111">3</text>
<path transform="translate(55.85,450.02) scale(0.01294,-0.01294)" d="M763,0L583,0L583,1147Q518,1085 412.5,1023Q307,961 223,930L223,1104Q374,1175 487,1276Q600,1377 647,1472L763,1472Z" fill="#111"/>
<text x="70.59" y="450.02" font-size="26.5" fill="#111">0</text>
<text x="85.32" y="442.02" font-size="16.5" fill="#111">4</text>
<path transform="translate(55.85,393.35) scale(0.01294,-0.01294)" d="M763,0L583,0L583,1147Q518,1085 412.5,1023Q307,961 223,930L223,1104Q374,1175 487,1276Q600,1377 647,1472L763,1472Z" fill="#111"/>
<text x="70.59" y="393.35" font-size="26.5" fill="#111">0</text>
<text x="85.32" y="385.35" font-size="16.5" fill="#111">5</text>
<path transform="translate(55.85,336.68) scale(0.01294,-0.01294)" d="M763,0L583,0L583,1147Q518,1085 412.5,1023Q307,961 223,930L223,1104Q374,1175 487,1276Q600,1377 647,1472L763,1472Z" fill="#111"/>
<text x="70.59" y="336.68" font-size="26.5" fill="#111">0</text>
<text x="85.32" y="328.68" font-size="16.5" fill="#111">6</text>
<path transform="translate(55.85,280.01) scale(0.01294,-0.01294)" d="M763,0L583,0L583,1147Q518,1085 412.5,1023Q307,961 223,930L223,1104Q374,1175 487,1276Q600,1377 647,1472L763,1472Z" fill="#111"/>
<text x="70.59" y="280.01" font-size="26.5" fill="#111">0</text>
<text x="85.32" y="272.01" font-size="16.5" fill="#111">7</text>
<path transform="translate(55.85,223.34) scale(0.01294,-0.01294)" d="M763,0L583,0L583,1147Q518,1085 412.5,1023Q307,961 223,930L223,1104Q374,1175 487,1276Q600,1377 647,1472L763,1472Z" fill="#111"/>
<text x="70.59" y="223.34" font-size="26.5" fill="#111">0</text>
<text x="85.32" y="215.34" font-size="16.5" fill="#111">8</text>
<path transform="translate(55.85,166.67) scale(0.01294,-0.01294)" d="M763,0L583,0L583,1147Q518,1085 412.5,1023Q307,961 223,930L223,1104Q374,1175 487,1276Q600,1377 647,1472L763,1472Z" fill="#111"/>
<text x="70.59" y="166.67" font-size="26.5" fill="#111">0</text>
<text x="85.32" y="158.67" font-size="16.5" fill="#111">9</text>
<path transform="translate(46.67,110.00) scale(0.01294,-0.01294)" d="M763,0L583,0L583,1147Q518,1085 412.5,1023Q307,961 223,930L223,1104Q374,1175 487,1276Q600,1377 647,1472L763,1472Z" fill="#111"/>
<text x="61.41" y="110.00" font-size="26.5" fill="#111">0</text>
<path transform="translate(76.15,102.00) scale(0.00806,-0.00806)" d="M763,0L583,0L583,1147Q518,1085 412.5,1023Q307,961 223,930L223,1104Q374,1175 487,1276Q600,1377 647,1472L763,1472Z" fill="#111"/>
<text x="85.32" y="102.00" font-size="16.5" fill="#111">0</text>
<text transform="translate(127.73,537.20) scale(1,1.05)" font-size="26.5" fill="#111">0</text>
<text transform="translate(212.04,537.20) scale(1,1.05)" font-size="26.5" fill="#111">2</text>
<text transform="translate(226.78,537.20) scale(1,1.05)" font-size="26.5" fill="#111">0</text>
<text transform="translate(241.52,537.20) scale(1,1.05)" font-size="26.5" fill="#111">0</text>
<text transform="translate(256.26,537.20) scale(1,1.05)" font-size="26.5" fill="#111">0</text>
<text transform="translate(318.46,537.20) scale(1,1.05)" font-size="26.5" fill="#111">4</text>
<text transform="translate(333.20,537.20) scale(1,1.05)" font-size="26.5" fill="#111">0</text>
<text transform="translate(347.94,537.20) scale(1,1.05)" font-size="26.5" fill="#111">0</text>
<text transform="translate(362.68,537.20) scale(1,1.05)" font-size="26.5" fill="#111">0</text>
<text transform="translate(424.88,537.20) scale(1,1.05)" font-size="26.5" fill="#111">6</text>
<text transform="translate(439.62,537.20) scale(1,1.05)" font-size="26.5" fill="#111">0</text>
<text transform="translate(454.36,537.20) scale(1,1.05)" font-size="26.5" fill="#111">0</text>
<text transform="translate(469.10,537.20) scale(1,1.05)" font-size="26.5" fill="#111">0</text>
<text transform="translate(531.30,537.20) scale(1,1.05)" font-size="26.5" fill="#111">8</text>
<text transform="translate(546.04,537.20) scale(1,1.05)" font-size="26.5" fill="#111">0</text>
<text transform="translate(560.78,537.20) scale(1,1.05)" font-size="26.5" fill="#111">0</text>
<text transform="translate(575.52,537.20) scale(1,1.05)" font-size="26.5" fill="#111">0</text>
<path transform="translate(630.35,537.20) scale(0.01294,-0.01359)" d="M763,0L583,0L583,1147Q518,1085 412.5,1023Q307,961 223,930L223,1104Q374,1175 487,1276Q600,1377 647,1472L763,1472Z" fill="#111"/>
<text transform="translate(645.09,537.20) scale(1,1.05)" font-size="26.5" fill="#111">0</text>
<text transform="translate(659.83,537.20) scale(1,1.05)" font-size="26.5" fill="#111">0</text>
<text transform="translate(674.57,537.20) scale(1,1.05)" font-size="26.5" fill="#111">0</text>
<text transform="translate(689.31,537.20) scale(1,1.05)" font-size="26.5" fill="#111">0</text>
<text transform="translate(400.4,577.1) scale(1,1.07)" text-anchor="middle" font-size="26.6" font-weight="bold" fill="#111">Time (Steps)</text>
<text transform="translate(24.0,291.8) rotate(-90) scale(1,1.07)" x="0" y="0" text-anchor="middle" font-size="27" font-weight="bold" fill="#111">Number (Counts)</text>
<text x="229.3" y="56.6" font-size="26.95" font-weight="bold" fill="#111">Element number dynamics</text>
<text x="1.5" y="32.2" font-size="43" font-weight="bold" fill="#000">A</text>
<line x1="243.4" y1="610.4" x2="293.9" y2="610.4" stroke="#0000ff" stroke-width="4" stroke-linecap="round"/>
<path d="M264.2,610.4 L275.8,603.3 L275.8,617.5 Z" fill="#0000ff"/>
<line x1="413.2" y1="610.4" x2="463" y2="610.4" stroke="#2d5e14" stroke-width="4" stroke-linecap="round"/>
<line x1="413.2" y1="610.4" x2="463" y2="610.4" stroke="#3f7d22" stroke-width="1.6" stroke-linecap="round"/>
<path d="M434.5,610.4 L438.3,605.6 L442.1,610.4 L438.3,615.1999999999999 Z" fill="#468628" stroke="#2f6414" stroke-width="0.9"/>
<line x1="243" y1="634.8" x2="292.8" y2="634.8" stroke="#e8961e" stroke-width="4" stroke-linecap="round"/>
<path d="M268.10,629.70 L269.57,633.08 L273.24,633.43 L270.48,635.87 L271.27,639.47 L268.10,637.60 L264.93,639.47 L265.72,635.87 L262.96,633.43 L266.63,633.08 Z" fill="#eba02c"/>
<line x1="412.8" y1="634.8" x2="462.6" y2="634.8" stroke="#db0000" stroke-width="4" stroke-linecap="round"/>
<path d="M432.5,634.8 L437.9,625.5999999999999 L443.3,634.8 L437.9,644.0 Z" fill="#db0000"/>
<text x="301" y="619.8" font-size="23.8" fill="#1a1a1a">HbO2</text>
<text x="470" y="619.8" font-size="23.8" fill="#1a1a1a">Hb(O2)2</text>
<text x="301" y="644.4" font-size="23.8" fill="#1a1a1a">Hb(O2)3</text>
<text x="470" y="644.4" font-size="23.8" fill="#1a1a1a">Hb(O2)4</text>
<clipPath id="clipB"><rect x="859.6" y="83" width="582.6" height="417.6"/></clipPath>
<g clip-path="url(#clipB)">
<polyline points="884.8,700 885.3,183.4 885.9,171.7 886.4,164.9 886.9,160 887.5,156.2 888,153.2 888.5,150.6 889.1,148.5 889.6,146.5 890.1,144.9 890.6,143.3 891.2,142 891.7,140.7 892.2,139.6 892.8,138.5 893.3,137.5 893.8,136.6 894.4,135.8 894.9,135 895.4,134.3 896,133.6 896.5,132.9 897,132.3 897.6,131.7 898.1,131.2 898.6,130.6 899.2,130.1 899.7,129.7 900.2,129.2 900.8,128.8 901.3,128.4 901.8,128 902.3,127.6 902.9,127.3 903.4,126.9 903.9,126.6 904.5,126.3 905,126 905.5,125.7 906.1,125.4 906.6,125.1 907.1,124.9 907.7,124.6 908.2,124.4 908.7,124.2 909.3,124 909.8,123.7 910.3,123.5 910.9,123.4 911.4,123.2 912.4,122.8 913.5,122.5 914.6,122.2 915.6,121.9 916.7,121.7 917.8,121.4 918.8,121.2 919.9,121 921,120.8 922,120.6 923.1,120.5 924.1,120.3 925.2,120.2 926.3,120.1 927.3,120 928.4,119.9 929.5,119.8 930.5,119.7 931.6,119.7 932.7,119.6 933.7,119.6 934.8,119.5 935.8,119.5 936.9,119.5 938,119.5 939,119.5 940.1,119.5 941.2,119.5 942.2,119.5 943.3,119.5 944.4,119.5 945.4,119.6 946.5,119.6 947.5,119.7 948.6,119.7 949.7,119.8 950.7,119.8 951.8,119.9 952.9,119.9 953.9,120 955,120.1 956,120.2 957.1,120.2 958.2,120.3 959.2,120.4 960.3,120.5 961.4,120.6 962.4,120.7 963.5,120.8 964.6,120.9 965.6,121 966.7,121.1 967.7,121.3 968.8,121.4 969.9,121.5 970.9,121.6 972,121.8 973.1,121.9 974.1,122 975.2,122.2 976.3,122.3 977.3,122.4 978.4,122.6 979.4,122.7 980.5,122.9 981.6,123 982.6,123.2 983.7,123.3 984.8,123.5 985.8,123.6 986.9,123.8 987.9,124 989,124.1 990.1,124.3 991.1,124.5 992.2,124.6 993.3,124.8 994.3,125 995.4,125.1 996.5,125.3 997.5,125.5 998.6,125.7 999.6,125.9 1000.7,126 1001.8,126.2 1002.8,126.4 1003.9,126.6 1005,126.8 1006,127 1007.1,127.2 1008.2,127.4 1009.2,127.5 1010.3,127.7 1011.3,127.9 1012.4,128.1 1013.5,128.3 1014.5,128.5 1015.6,128.7 1016.7,128.9 1017.7,129.1 1018.8,129.3 1019.9,129.5 1020.9,129.8 1022,130 1023,130.2 1024.1,130.4 1025.2,130.6 1026.2,130.8 1027.3,131 1028.4,131.2 1029.4,131.4 1030.5,131.7 1031.5,131.9 1032.6,132.1 1033.7,132.3 1034.7,132.5 1035.8,132.7 1036.9,133 1037.9,133.2 1039,133.4 1040.1,133.6 1041.1,133.9 1042.2,134.1 1043.2,134.3 1044.3,134.5 1045.4,134.8 1046.4,135 1047.5,135.2 1048.6,135.5 1049.6,135.7 1050.7,135.9 1051.8,136.1 1052.8,136.4 1053.9,136.6 1054.9,136.8 1056,137.1 1057.1,137.3 1058.1,137.6 1059.2,137.8 1060.3,138 1061.3,138.3 1062.4,138.5 1063.5,138.7 1064.5,139 1065.6,139.2 1066.6,139.5 1067.7,139.7 1068.8,139.9 1069.8,140.2 1070.9,140.4 1072,140.7 1073,140.9 1074.1,141.2 1075.1,141.4 1076.2,141.7 1077.3,141.9 1078.3,142.2 1079.4,142.4 1080.5,142.7 1081.5,142.9 1082.6,143.2 1083.7,143.4 1084.7,143.7 1085.8,143.9 1086.8,144.2 1087.9,144.4 1089,144.7 1090,144.9 1091.1,145.2 1092.2,145.4 1093.2,145.7 1094.3,145.9 1095.4,146.2 1096.4,146.4 1097.5,146.7 1098.5,147 1099.6,147.2 1100.7,147.5 1101.7,147.7 1102.8,148 1103.9,148.2 1104.9,148.5 1106,148.8 1107.1,149 1108.1,149.3 1109.2,149.5 1110.2,149.8 1111.3,150.1 1112.4,150.3 1113.4,150.6 1114.5,150.8 1115.6,151.1 1116.6,151.4 1117.7,151.6 1118.7,151.9 1119.8,152.2 1120.9,152.4 1121.9,152.7 1123,153 1124.1,153.2 1125.1,153.5 1126.2,153.8 1127.3,154 1128.3,154.3 1129.4,154.6 1130.4,154.8 1131.5,155.1 1132.6,155.4 1133.6,155.6 1134.7,155.9 1135.8,156.2 1136.8,156.4 1137.9,156.7 1139,157 1140,157.3 1141.1,157.5 1142.1,157.8 1143.2,158.1 1144.3,158.3 1145.3,158.6 1146.4,158.9 1147.5,159.2 1148.5,159.4 1149.6,159.7 1150.7,160 1151.7,160.3 1152.8,160.5 1153.8,160.8 1154.9,161.1 1156,161.3 1157,161.6 1158.1,161.9 1159.2,162.2 1160.2,162.5 1161.3,162.7 1162.3,163 1163.4,163.3 1164.5,163.6 1165.5,163.8 1166.6,164.1 1167.7,164.4 1168.7,164.7 1169.8,164.9 1170.9,165.2 1171.9,165.5 1173,165.8 1174,166.1 1175.1,166.3 1176.2,166.6 1177.2,166.9 1178.3,167.2 1179.4,167.5 1180.4,167.7 1181.5,168 1182.6,168.3 1183.6,168.6 1184.7,168.9 1185.7,169.1 1186.8,169.4 1187.9,169.7 1188.9,170 1190,170.3 1191.1,170.6 1192.1,170.8 1193.2,171.1 1194.2,171.4 1195.3,171.7 1196.4,172 1197.4,172.3 1198.5,172.5 1199.6,172.8 1200.6,173.1 1201.7,173.4 1202.8,173.7 1203.8,174 1204.9,174.2 1205.9,174.5 1207,174.8 1208.1,175.1 1209.1,175.4 1210.2,175.7 1211.3,176 1212.3,176.3 1213.4,176.5 1214.5,176.8 1215.5,177.1 1216.6,177.4 1217.6,177.7 1218.7,178 1219.8,178.3 1220.8,178.5 1221.9,178.8 1223,179.1 1224,179.4 1225.1,179.7 1226.2,180 1227.2,180.3 1228.3,180.6 1229.3,180.9 1230.4,181.1 1231.5,181.4 1232.5,181.7 1233.6,182 1234.7,182.3 1235.7,182.6 1236.8,182.9 1237.8,183.2 1238.9,183.5 1240,183.8 1241,184 1242.1,184.3 1243.2,184.6 1244.2,184.9 1245.3,185.2 1246.4,185.5 1247.4,185.8 1248.5,186.1 1249.5,186.4 1250.6,186.7 1251.7,187 1252.7,187.3 1253.8,187.5 1254.9,187.8 1255.9,188.1 1257,188.4 1258.1,188.7 1259.1,189 1260.2,189.3 1261.2,189.6 1262.3,189.9 1263.4,190.2 1264.4,190.5 1265.5,190.8 1266.6,191.1 1267.6,191.4 1268.7,191.7 1269.8,192 1270.8,192.2 1271.9,192.5 1272.9,192.8 1274,193.1 1275.1,193.4 1276.1,193.7 1277.2,194 1278.3,194.3 1279.3,194.6 1280.4,194.9 1281.4,195.2 1282.5,195.5 1283.6,195.8 1284.6,196.1 1285.7,196.4 1286.8,196.7 1287.8,197 1288.9,197.3 1290,197.6 1291,197.9 1292.1,198.2 1293.1,198.5 1294.2,198.8 1295.3,199.1 1296.3,199.4 1297.4,199.7 1298.5,200 1299.5,200.3 1300.6,200.5 1301.7,200.8 1302.7,201.1 1303.8,201.4 1304.8,201.7 1305.9,202 1307,202.3 1308,202.6 1309.1,202.9 1310.2,203.2 1311.2,203.5 1312.3,203.8 1313.4,204.1 1314.4,204.4 1315.5,204.7 1316.5,205 1317.6,205.3 1318.7,205.6 1319.7,205.9 1320.8,206.2 1321.9,206.5 1322.9,206.8 1324,207.1 1325,207.4 1326.1,207.7 1327.2,208 1328.2,208.3 1329.3,208.6 1330.4,208.9 1331.4,209.2 1332.5,209.5 1333.6,209.8 1334.6,210.1 1335.7,210.4 1336.7,210.7 1337.8,211 1338.9,211.3 1339.9,211.6 1341,211.9 1342.1,212.2 1343.1,212.6 1344.2,212.9 1345.3,213.2 1346.3,213.5 1347.4,213.8 1348.4,214.1 1349.5,214.4 1350.6,214.7 1351.6,215 1352.7,215.3 1353.8,215.6 1354.8,215.9 1355.9,216.2 1356.9,216.5 1358,216.8 1359.1,217.1 1360.1,217.4 1361.2,217.7 1362.3,218 1363.3,218.3 1364.4,218.6 1365.5,218.9 1366.5,219.2 1367.6,219.5 1368.6,219.8 1369.7,220.1 1370.8,220.4 1371.8,220.7 1372.9,221 1374,221.3 1375,221.6 1376.1,221.9 1377.2,222.3 1378.2,222.6 1379.3,222.9 1380.3,223.2 1381.4,223.5 1382.5,223.8 1383.5,224.1 1384.6,224.4 1385.7,224.7 1386.7,225 1387.8,225.3 1388.9,225.6 1389.9,225.9 1391,226.2 1392,226.5 1393.1,226.8 1394.2,227.1 1395.2,227.4 1396.3,227.7 1397.4,228 1398.4,228.4 1399.5,228.7 1400.5,229 1401.6,229.3 1402.7,229.6 1403.7,229.9 1404.8,230.2 1405.9,230.5 1406.9,230.8 1408,231.1 1409.1,231.4 1410.1,231.7 1411.2,232 1412.2,232.3 1413.3,232.6 1414.4,233 1415.4,233.3 1416.5,233.6" fill="none" stroke="#0000ff" stroke-width="3" stroke-linejoin="round" marker-mid="url(#mB)" marker-end="url(#mB)"/>
<polyline points="884.8,700 885.3,276.2 885.9,252.7 886.4,238.8 886.9,228.9 887.5,221.2 888,214.9 888.5,209.6 889.1,205.1 889.6,201.1 890.1,197.5 890.6,194.3 891.2,191.4 891.7,188.7 892.2,186.3 892.8,184 893.3,181.9 893.8,179.9 894.4,178 894.9,176.3 895.4,174.6 896,173.1 896.5,171.6 897,170.2 897.6,168.8 898.1,167.6 898.6,166.3 899.2,165.2 899.7,164.1 900.2,163 900.8,161.9 901.3,161 901.8,160 902.3,159.1 902.9,158.2 903.4,157.3 903.9,156.5 904.5,155.7 905,154.9 905.5,154.2 906.1,153.4 906.6,152.7 907.1,152 907.7,151.4 908.2,150.7 908.7,150.1 909.3,149.5 909.8,148.9 910.3,148.3 910.9,147.8 911.4,147.2 912.4,146.2 913.5,145.2 914.6,144.2 915.6,143.3 916.7,142.5 917.8,141.6 918.8,140.9 919.9,140.1 921,139.4 922,138.7 923.1,138 924.1,137.4 925.2,136.8 926.3,136.2 927.3,135.7 928.4,135.2 929.5,134.6 930.5,134.1 931.6,133.7 932.7,133.2 933.7,132.8 934.8,132.4 935.8,132 936.9,131.6 938,131.2 939,130.8 940.1,130.5 941.2,130.2 942.2,129.9 943.3,129.5 944.4,129.2 945.4,129 946.5,128.7 947.5,128.4 948.6,128.2 949.7,127.9 950.7,127.7 951.8,127.5 952.9,127.3 953.9,127.1 955,126.9 956,126.7 957.1,126.5 958.2,126.3 959.2,126.2 960.3,126 961.4,125.8 962.4,125.7 963.5,125.6 964.6,125.4 965.6,125.3 966.7,125.2 967.7,125.1 968.8,125 969.9,124.9 970.9,124.8 972,124.7 973.1,124.6 974.1,124.5 975.2,124.4 976.3,124.4 977.3,124.3 978.4,124.3 979.4,124.2 980.5,124.1 981.6,124.1 982.6,124.1 983.7,124 984.8,124 985.8,124 986.9,123.9 987.9,123.9 989,123.9 990.1,123.9 991.1,123.9 992.2,123.9 993.3,123.9 994.3,123.9 995.4,123.9 996.5,123.9 997.5,123.9 998.6,123.9 999.6,123.9 1000.7,123.9 1001.8,123.9 1002.8,124 1003.9,124 1005,124 1006,124.1 1007.1,124.1 1008.2,124.1 1009.2,124.2 1010.3,124.2 1011.3,124.3 1012.4,124.3 1013.5,124.4 1014.5,124.4 1015.6,124.5 1016.7,124.5 1017.7,124.6 1018.8,124.7 1019.9,124.7 1020.9,124.8 1022,124.9 1023,124.9 1024.1,125 1025.2,125.1 1026.2,125.2 1027.3,125.2 1028.4,125.3 1029.4,125.4 1030.5,125.5 1031.5,125.6 1032.6,125.7 1033.7,125.8 1034.7,125.9 1035.8,126 1036.9,126.1 1037.9,126.2 1039,126.3 1040.1,126.4 1041.1,126.5 1042.2,126.6 1043.2,126.7 1044.3,126.8 1045.4,126.9 1046.4,127 1047.5,127.1 1048.6,127.2 1049.6,127.3 1050.7,127.5 1051.8,127.6 1052.8,127.7 1053.9,127.8 1054.9,128 1056,128.1 1057.1,128.2 1058.1,128.3 1059.2,128.5 1060.3,128.6 1061.3,128.7 1062.4,128.9 1063.5,129 1064.5,129.1 1065.6,129.3 1066.6,129.4 1067.7,129.5 1068.8,129.7 1069.8,129.8 1070.9,130 1072,130.1 1073,130.3 1074.1,130.4 1075.1,130.5 1076.2,130.7 1077.3,130.8 1078.3,131 1079.4,131.1 1080.5,131.3 1081.5,131.5 1082.6,131.6 1083.7,131.8 1084.7,131.9 1085.8,132.1 1086.8,132.2 1087.9,132.4 1089,132.6 1090,132.7 1091.1,132.9 1092.2,133 1093.2,133.2 1094.3,133.4 1095.4,133.5 1096.4,133.7 1097.5,133.9 1098.5,134.1 1099.6,134.2 1100.7,134.4 1101.7,134.6 1102.8,134.7 1103.9,134.9 1104.9,135.1 1106,135.3 1107.1,135.4 1108.1,135.6 1109.2,135.8 1110.2,136 1111.3,136.1 1112.4,136.3 1113.4,136.5 1114.5,136.7 1115.6,136.9 1116.6,137.1 1117.7,137.2 1118.7,137.4 1119.8,137.6 1120.9,137.8 1121.9,138 1123,138.2 1124.1,138.4 1125.1,138.5 1126.2,138.7 1127.3,138.9 1128.3,139.1 1129.4,139.3 1130.4,139.5 1131.5,139.7 1132.6,139.9 1133.6,140.1 1134.7,140.3 1135.8,140.5 1136.8,140.7 1137.9,140.9 1139,141.1 1140,141.3 1141.1,141.5 1142.1,141.7 1143.2,141.9 1144.3,142.1 1145.3,142.3 1146.4,142.5 1147.5,142.7 1148.5,142.9 1149.6,143.1 1150.7,143.3 1151.7,143.5 1152.8,143.7 1153.8,143.9 1154.9,144.1 1156,144.3 1157,144.5 1158.1,144.7 1159.2,144.9 1160.2,145.1 1161.3,145.3 1162.3,145.6 1163.4,145.8 1164.5,146 1165.5,146.2 1166.6,146.4 1167.7,146.6 1168.7,146.8 1169.8,147 1170.9,147.3 1171.9,147.5 1173,147.7 1174,147.9 1175.1,148.1 1176.2,148.3 1177.2,148.5 1178.3,148.8 1179.4,149 1180.4,149.2 1181.5,149.4 1182.6,149.6 1183.6,149.9 1184.7,150.1 1185.7,150.3 1186.8,150.5 1187.9,150.7 1188.9,151 1190,151.2 1191.1,151.4 1192.1,151.6 1193.2,151.9 1194.2,152.1 1195.3,152.3 1196.4,152.5 1197.4,152.8 1198.5,153 1199.6,153.2 1200.6,153.4 1201.7,153.7 1202.8,153.9 1203.8,154.1 1204.9,154.3 1205.9,154.6 1207,154.8 1208.1,155 1209.1,155.3 1210.2,155.5 1211.3,155.7 1212.3,155.9 1213.4,156.2 1214.5,156.4 1215.5,156.6 1216.6,156.9 1217.6,157.1 1218.7,157.3 1219.8,157.6 1220.8,157.8 1221.9,158 1223,158.3 1224,158.5 1225.1,158.7 1226.2,159 1227.2,159.2 1228.3,159.4 1229.3,159.7 1230.4,159.9 1231.5,160.2 1232.5,160.4 1233.6,160.6 1234.7,160.9 1235.7,161.1 1236.8,161.3 1237.8,161.6 1238.9,161.8 1240,162.1 1241,162.3 1242.1,162.5 1243.2,162.8 1244.2,163 1245.3,163.3 1246.4,163.5 1247.4,163.8 1248.5,164 1249.5,164.2 1250.6,164.5 1251.7,164.7 1252.7,165 1253.8,165.2 1254.9,165.5 1255.9,165.7 1257,165.9 1258.1,166.2 1259.1,166.4 1260.2,166.7 1261.2,166.9 1262.3,167.2 1263.4,167.4 1264.4,167.7 1265.5,167.9 1266.6,168.2 1267.6,168.4 1268.7,168.6 1269.8,168.9 1270.8,169.1 1271.9,169.4 1272.9,169.6 1274,169.9 1275.1,170.1 1276.1,170.4 1277.2,170.6 1278.3,170.9 1279.3,171.1 1280.4,171.4 1281.4,171.6 1282.5,171.9 1283.6,172.1 1284.6,172.4 1285.7,172.6 1286.8,172.9 1287.8,173.1 1288.9,173.4 1290,173.7 1291,173.9 1292.1,174.2 1293.1,174.4 1294.2,174.7 1295.3,174.9 1296.3,175.2 1297.4,175.4 1298.5,175.7 1299.5,175.9 1300.6,176.2 1301.7,176.4 1302.7,176.7 1303.8,177 1304.8,177.2 1305.9,177.5 1307,177.7 1308,178 1309.1,178.2 1310.2,178.5 1311.2,178.8 1312.3,179 1313.4,179.3 1314.4,179.5 1315.5,179.8 1316.5,180 1317.6,180.3 1318.7,180.6 1319.7,180.8 1320.8,181.1 1321.9,181.3 1322.9,181.6 1324,181.9 1325,182.1 1326.1,182.4 1327.2,182.6 1328.2,182.9 1329.3,183.2 1330.4,183.4 1331.4,183.7 1332.5,183.9 1333.6,184.2 1334.6,184.5 1335.7,184.7 1336.7,185 1337.8,185.2 1338.9,185.5 1339.9,185.8 1341,186 1342.1,186.3 1343.1,186.6 1344.2,186.8 1345.3,187.1 1346.3,187.4 1347.4,187.6 1348.4,187.9 1349.5,188.1 1350.6,188.4 1351.6,188.7 1352.7,188.9 1353.8,189.2 1354.8,189.5 1355.9,189.7 1356.9,190 1358,190.3 1359.1,190.5 1360.1,190.8 1361.2,191.1 1362.3,191.3 1363.3,191.6 1364.4,191.9 1365.5,192.1 1366.5,192.4 1367.6,192.7 1368.6,192.9 1369.7,193.2 1370.8,193.5 1371.8,193.7 1372.9,194 1374,194.3 1375,194.5 1376.1,194.8 1377.2,195.1 1378.2,195.3 1379.3,195.6 1380.3,195.9 1381.4,196.2 1382.5,196.4 1383.5,196.7 1384.6,197 1385.7,197.2 1386.7,197.5 1387.8,197.8 1388.9,198 1389.9,198.3 1391,198.6 1392,198.9 1393.1,199.1 1394.2,199.4 1395.2,199.7 1396.3,199.9 1397.4,200.2 1398.4,200.5 1399.5,200.8 1400.5,201 1401.6,201.3 1402.7,201.6 1403.7,201.8 1404.8,202.1 1405.9,202.4 1406.9,202.7 1408,202.9 1409.1,203.2 1410.1,203.5 1411.2,203.8 1412.2,204 1413.3,204.3 1414.4,204.6 1415.4,204.9 1416.5,205.1" fill="none" stroke="#2f6414" stroke-width="2" stroke-linejoin="round" marker-mid="url(#mC)" marker-end="url(#mC)"/>
<polyline points="885.3,276.2 885.9,252.7 886.4,238.8 886.9,228.9 887.5,221.2 888,214.9 888.5,209.6 889.1,205.1 889.6,201.1 890.1,197.5 890.6,194.3 891.2,191.4 891.7,188.7 892.2,186.3 892.8,184 893.3,181.9 893.8,179.9 894.4,178 894.9,176.3 895.4,174.6 896,173.1 896.5,171.6 897,170.2 897.6,168.8 898.1,167.6 898.6,166.3 899.2,165.2 899.7,164.1 900.2,163 900.8,161.9 901.3,161 901.8,160 902.3,159.1 902.9,158.2 903.4,157.3 903.9,156.5 904.5,155.7 905,154.9 905.5,154.2 906.1,153.4 906.6,152.7 907.1,152 907.7,151.4 908.2,150.7 908.7,150.1 909.3,149.5 909.8,148.9 910.3,148.3 910.9,147.8 911.4,147.2 912.4,146.2 913.5,145.2 914.6,144.2 915.6,143.3 916.7,142.5 917.8,141.6 918.8,140.9 919.9,140.1 921,139.4 922,138.7 923.1,138 924.1,137.4 925.2,136.8 926.3,136.2 927.3,135.7 928.4,135.2 929.5,134.6 930.5,134.1 931.6,133.7 932.7,133.2 933.7,132.8 934.8,132.4 935.8,132 936.9,131.6 938,131.2 939,130.8 940.1,130.5 941.2,130.2 942.2,129.9 943.3,129.5 944.4,129.2 945.4,129 946.5,128.7 947.5,128.4 948.6,128.2 949.7,127.9 950.7,127.7 951.8,127.5 952.9,127.3 953.9,127.1 955,126.9 956,126.7 957.1,126.5 958.2,126.3 959.2,126.2 960.3,126 961.4,125.8 962.4,125.7 963.5,125.6 964.6,125.4 965.6,125.3 966.7,125.2 967.7,125.1 968.8,125 969.9,124.9 970.9,124.8 972,124.7 973.1,124.6 974.1,124.5 975.2,124.4 976.3,124.4 977.3,124.3 978.4,124.3 979.4,124.2 980.5,124.1 981.6,124.1 982.6,124.1 983.7,124 984.8,124 985.8,124 986.9,123.9 987.9,123.9 989,123.9 990.1,123.9 991.1,123.9 992.2,123.9 993.3,123.9 994.3,123.9 995.4,123.9 996.5,123.9 997.5,123.9 998.6,123.9 999.6,123.9 1000.7,123.9 1001.8,123.9 1002.8,124 1003.9,124 1005,124 1006,124.1 1007.1,124.1 1008.2,124.1 1009.2,124.2 1010.3,124.2 1011.3,124.3 1012.4,124.3 1013.5,124.4 1014.5,124.4 1015.6,124.5 1016.7,124.5 1017.7,124.6 1018.8,124.7 1019.9,124.7 1020.9,124.8 1022,124.9 1023,124.9 1024.1,125 1025.2,125.1 1026.2,125.2 1027.3,125.2 1028.4,125.3 1029.4,125.4 1030.5,125.5 1031.5,125.6 1032.6,125.7 1033.7,125.8 1034.7,125.9 1035.8,126 1036.9,126.1 1037.9,126.2 1039,126.3 1040.1,126.4 1041.1,126.5 1042.2,126.6 1043.2,126.7 1044.3,126.8 1045.4,126.9 1046.4,127 1047.5,127.1 1048.6,127.2 1049.6,127.3 1050.7,127.5 1051.8,127.6 1052.8,127.7 1053.9,127.8 1054.9,128 1056,128.1 1057.1,128.2 1058.1,128.3 1059.2,128.5 1060.3,128.6 1061.3,128.7 1062.4,128.9 1063.5,129 1064.5,129.1 1065.6,129.3 1066.6,129.4 1067.7,129.5 1068.8,129.7 1069.8,129.8 1070.9,130 1072,130.1 1073,130.3 1074.1,130.4 1075.1,130.5 1076.2,130.7 1077.3,130.8 1078.3,131 1079.4,131.1 1080.5,131.3 1081.5,131.5 1082.6,131.6 1083.7,131.8 1084.7,131.9 1085.8,132.1 1086.8,132.2 1087.9,132.4 1089,132.6 1090,132.7 1091.1,132.9 1092.2,133 1093.2,133.2 1094.3,133.4 1095.4,133.5 1096.4,133.7 1097.5,133.9 1098.5,134.1 1099.6,134.2 1100.7,134.4 1101.7,134.6 1102.8,134.7 1103.9,134.9 1104.9,135.1 1106,135.3 1107.1,135.4 1108.1,135.6 1109.2,135.8 1110.2,136 1111.3,136.1 1112.4,136.3 1113.4,136.5 1114.5,136.7 1115.6,136.9 1116.6,137.1 1117.7,137.2 1118.7,137.4 1119.8,137.6 1120.9,137.8 1121.9,138 1123,138.2 1124.1,138.4 1125.1,138.5 1126.2,138.7 1127.3,138.9 1128.3,139.1 1129.4,139.3 1130.4,139.5 1131.5,139.7 1132.6,139.9 1133.6,140.1 1134.7,140.3 1135.8,140.5 1136.8,140.7 1137.9,140.9 1139,141.1 1140,141.3 1141.1,141.5 1142.1,141.7 1143.2,141.9 1144.3,142.1 1145.3,142.3 1146.4,142.5 1147.5,142.7 1148.5,142.9 1149.6,143.1 1150.7,143.3 1151.7,143.5 1152.8,143.7 1153.8,143.9 1154.9,144.1 1156,144.3 1157,144.5 1158.1,144.7 1159.2,144.9 1160.2,145.1 1161.3,145.3 1162.3,145.6 1163.4,145.8 1164.5,146 1165.5,146.2 1166.6,146.4 1167.7,146.6 1168.7,146.8 1169.8,147 1170.9,147.3 1171.9,147.5 1173,147.7 1174,147.9 1175.1,148.1 1176.2,148.3 1177.2,148.5 1178.3,148.8 1179.4,149 1180.4,149.2 1181.5,149.4 1182.6,149.6 1183.6,149.9 1184.7,150.1 1185.7,150.3 1186.8,150.5 1187.9,150.7 1188.9,151 1190,151.2 1191.1,151.4 1192.1,151.6 1193.2,151.9 1194.2,152.1 1195.3,152.3 1196.4,152.5 1197.4,152.8 1198.5,153 1199.6,153.2 1200.6,153.4 1201.7,153.7 1202.8,153.9 1203.8,154.1 1204.9,154.3 1205.9,154.6 1207,154.8 1208.1,155 1209.1,155.3 1210.2,155.5 1211.3,155.7 1212.3,155.9 1213.4,156.2 1214.5,156.4 1215.5,156.6 1216.6,156.9 1217.6,157.1 1218.7,157.3 1219.8,157.6 1220.8,157.8 1221.9,158 1223,158.3 1224,158.5 1225.1,158.7 1226.2,159 1227.2,159.2 1228.3,159.4 1229.3,159.7 1230.4,159.9 1231.5,160.2 1232.5,160.4 1233.6,160.6 1234.7,160.9 1235.7,161.1 1236.8,161.3 1237.8,161.6 1238.9,161.8 1240,162.1 1241,162.3 1242.1,162.5 1243.2,162.8 1244.2,163 1245.3,163.3 1246.4,163.5 1247.4,163.8 1248.5,164 1249.5,164.2 1250.6,164.5 1251.7,164.7 1252.7,165 1253.8,165.2 1254.9,165.5 1255.9,165.7 1257,165.9 1258.1,166.2 1259.1,166.4 1260.2,166.7 1261.2,166.9 1262.3,167.2 1263.4,167.4 1264.4,167.7 1265.5,167.9 1266.6,168.2 1267.6,168.4 1268.7,168.6 1269.8,168.9 1270.8,169.1 1271.9,169.4 1272.9,169.6 1274,169.9 1275.1,170.1 1276.1,170.4 1277.2,170.6 1278.3,170.9 1279.3,171.1 1280.4,171.4 1281.4,171.6 1282.5,171.9 1283.6,172.1 1284.6,172.4 1285.7,172.6 1286.8,172.9 1287.8,173.1 1288.9,173.4 1290,173.7 1291,173.9 1292.1,174.2 1293.1,174.4 1294.2,174.7 1295.3,174.9 1296.3,175.2 1297.4,175.4 1298.5,175.7 1299.5,175.9 1300.6,176.2 1301.7,176.4 1302.7,176.7 1303.8,177 1304.8,177.2 1305.9,177.5 1307,177.7 1308,178 1309.1,178.2 1310.2,178.5 1311.2,178.8 1312.3,179 1313.4,179.3 1314.4,179.5 1315.5,179.8 1316.5,180 1317.6,180.3 1318.7,180.6 1319.7,180.8 1320.8,181.1 1321.9,181.3 1322.9,181.6 1324,181.9 1325,182.1 1326.1,182.4 1327.2,182.6 1328.2,182.9 1329.3,183.2 1330.4,183.4 1331.4,183.7 1332.5,183.9 1333.6,184.2 1334.6,184.5 1335.7,184.7 1336.7,185 1337.8,185.2 1338.9,185.5 1339.9,185.8 1341,186 1342.1,186.3 1343.1,186.6 1344.2,186.8 1345.3,187.1 1346.3,187.4 1347.4,187.6 1348.4,187.9 1349.5,188.1 1350.6,188.4 1351.6,188.7 1352.7,188.9 1353.8,189.2 1354.8,189.5 1355.9,189.7 1356.9,190 1358,190.3 1359.1,190.5 1360.1,190.8 1361.2,191.1 1362.3,191.3 1363.3,191.6 1364.4,191.9 1365.5,192.1 1366.5,192.4 1367.6,192.7 1368.6,192.9 1369.7,193.2 1370.8,193.5 1371.8,193.7 1372.9,194 1374,194.3 1375,194.5 1376.1,194.8 1377.2,195.1 1378.2,195.3 1379.3,195.6 1380.3,195.9 1381.4,196.2 1382.5,196.4 1383.5,196.7 1384.6,197 1385.7,197.2 1386.7,197.5 1387.8,197.8 1388.9,198 1389.9,198.3 1391,198.6 1392,198.9 1393.1,199.1 1394.2,199.4 1395.2,199.7 1396.3,199.9 1397.4,200.2 1398.4,200.5 1399.5,200.8 1400.5,201 1401.6,201.3 1402.7,201.6 1403.7,201.8 1404.8,202.1 1405.9,202.4 1406.9,202.7 1408,202.9 1409.1,203.2 1410.1,203.5 1411.2,203.8 1412.2,204 1413.3,204.3 1414.4,204.6 1415.4,204.9 1416.5,205.1" fill="none" stroke="#448526" stroke-width="4.2" stroke-linejoin="round" stroke-linecap="round"/>
<polyline points="885.3,276.2 885.9,252.7 886.4,238.8 886.9,228.9 887.5,221.2 888,214.9 888.5,209.6 889.1,205.1 889.6,201.1 890.1,197.5 890.6,194.3 891.2,191.4 891.7,188.7 892.2,186.3 892.8,184 893.3,181.9 893.8,179.9 894.4,178 894.9,176.3 895.4,174.6 896,173.1 896.5,171.6 897,170.2 897.6,168.8 898.1,167.6 898.6,166.3 899.2,165.2 899.7,164.1 900.2,163 900.8,161.9 901.3,161 901.8,160 902.3,159.1 902.9,158.2 903.4,157.3 903.9,156.5 904.5,155.7 905,154.9 905.5,154.2 906.1,153.4 906.6,152.7 907.1,152 907.7,151.4 908.2,150.7 908.7,150.1 909.3,149.5 909.8,148.9 910.3,148.3 910.9,147.8 911.4,147.2 912.4,146.2 913.5,145.2 914.6,144.2 915.6,143.3 916.7,142.5 917.8,141.6 918.8,140.9 919.9,140.1 921,139.4 922,138.7 923.1,138 924.1,137.4 925.2,136.8 926.3,136.2 927.3,135.7 928.4,135.2 929.5,134.6 930.5,134.1 931.6,133.7 932.7,133.2 933.7,132.8 934.8,132.4 935.8,132 936.9,131.6 938,131.2 939,130.8 940.1,130.5 941.2,130.2 942.2,129.9 943.3,129.5 944.4,129.2 945.4,129 946.5,128.7 947.5,128.4 948.6,128.2 949.7,127.9 950.7,127.7 951.8,127.5 952.9,127.3 953.9,127.1 955,126.9 956,126.7 957.1,126.5 958.2,126.3 959.2,126.2 960.3,126 961.4,125.8 962.4,125.7 963.5,125.6 964.6,125.4 965.6,125.3 966.7,125.2 967.7,125.1 968.8,125 969.9,124.9 970.9,124.8 972,124.7 973.1,124.6 974.1,124.5 975.2,124.4 976.3,124.4 977.3,124.3 978.4,124.3 979.4,124.2 980.5,124.1 981.6,124.1 982.6,124.1 983.7,124 984.8,124 985.8,124 986.9,123.9 987.9,123.9 989,123.9 990.1,123.9 991.1,123.9 992.2,123.9 993.3,123.9 994.3,123.9 995.4,123.9 996.5,123.9 997.5,123.9 998.6,123.9 999.6,123.9 1000.7,123.9 1001.8,123.9 1002.8,124 1003.9,124 1005,124 1006,124.1 1007.1,124.1 1008.2,124.1 1009.2,124.2 1010.3,124.2 1011.3,124.3 1012.4,124.3 1013.5,124.4 1014.5,124.4 1015.6,124.5 1016.7,124.5 1017.7,124.6 1018.8,124.7 1019.9,124.7 1020.9,124.8 1022,124.9 1023,124.9 1024.1,125 1025.2,125.1 1026.2,125.2 1027.3,125.2 1028.4,125.3 1029.4,125.4 1030.5,125.5 1031.5,125.6 1032.6,125.7 1033.7,125.8 1034.7,125.9 1035.8,126 1036.9,126.1 1037.9,126.2 1039,126.3 1040.1,126.4 1041.1,126.5 1042.2,126.6 1043.2,126.7 1044.3,126.8 1045.4,126.9 1046.4,127 1047.5,127.1 1048.6,127.2 1049.6,127.3 1050.7,127.5 1051.8,127.6 1052.8,127.7 1053.9,127.8 1054.9,128 1056,128.1 1057.1,128.2 1058.1,128.3 1059.2,128.5 1060.3,128.6 1061.3,128.7 1062.4,128.9 1063.5,129 1064.5,129.1 1065.6,129.3 1066.6,129.4 1067.7,129.5 1068.8,129.7 1069.8,129.8 1070.9,130 1072,130.1 1073,130.3 1074.1,130.4 1075.1,130.5 1076.2,130.7 1077.3,130.8 1078.3,131 1079.4,131.1 1080.5,131.3 1081.5,131.5 1082.6,131.6 1083.7,131.8 1084.7,131.9 1085.8,132.1 1086.8,132.2 1087.9,132.4 1089,132.6 1090,132.7 1091.1,132.9 1092.2,133 1093.2,133.2 1094.3,133.4 1095.4,133.5 1096.4,133.7 1097.5,133.9 1098.5,134.1 1099.6,134.2 1100.7,134.4 1101.7,134.6 1102.8,134.7 1103.9,134.9 1104.9,135.1 1106,135.3 1107.1,135.4 1108.1,135.6 1109.2,135.8 1110.2,136 1111.3,136.1 1112.4,136.3 1113.4,136.5 1114.5,136.7 1115.6,136.9 1116.6,137.1 1117.7,137.2 1118.7,137.4 1119.8,137.6 1120.9,137.8 1121.9,138 1123,138.2 1124.1,138.4 1125.1,138.5 1126.2,138.7 1127.3,138.9 1128.3,139.1 1129.4,139.3 1130.4,139.5 1131.5,139.7 1132.6,139.9 1133.6,140.1 1134.7,140.3 1135.8,140.5 1136.8,140.7 1137.9,140.9 1139,141.1 1140,141.3 1141.1,141.5 1142.1,141.7 1143.2,141.9 1144.3,142.1 1145.3,142.3 1146.4,142.5 1147.5,142.7 1148.5,142.9 1149.6,143.1 1150.7,143.3 1151.7,143.5 1152.8,143.7 1153.8,143.9 1154.9,144.1 1156,144.3 1157,144.5 1158.1,144.7 1159.2,144.9 1160.2,145.1 1161.3,145.3 1162.3,145.6 1163.4,145.8 1164.5,146 1165.5,146.2 1166.6,146.4 1167.7,146.6 1168.7,146.8 1169.8,147 1170.9,147.3 1171.9,147.5 1173,147.7 1174,147.9 1175.1,148.1 1176.2,148.3 1177.2,148.5 1178.3,148.8 1179.4,149 1180.4,149.2 1181.5,149.4 1182.6,149.6 1183.6,149.9 1184.7,150.1 1185.7,150.3 1186.8,150.5 1187.9,150.7 1188.9,151 1190,151.2 1191.1,151.4 1192.1,151.6 1193.2,151.9 1194.2,152.1 1195.3,152.3 1196.4,152.5 1197.4,152.8 1198.5,153 1199.6,153.2 1200.6,153.4 1201.7,153.7 1202.8,153.9 1203.8,154.1 1204.9,154.3 1205.9,154.6 1207,154.8 1208.1,155 1209.1,155.3 1210.2,155.5 1211.3,155.7 1212.3,155.9 1213.4,156.2 1214.5,156.4 1215.5,156.6 1216.6,156.9 1217.6,157.1 1218.7,157.3 1219.8,157.6 1220.8,157.8 1221.9,158 1223,158.3 1224,158.5 1225.1,158.7 1226.2,159 1227.2,159.2 1228.3,159.4 1229.3,159.7 1230.4,159.9 1231.5,160.2 1232.5,160.4 1233.6,160.6 1234.7,160.9 1235.7,161.1 1236.8,161.3 1237.8,161.6 1238.9,161.8 1240,162.1 1241,162.3 1242.1,162.5 1243.2,162.8 1244.2,163 1245.3,163.3 1246.4,163.5 1247.4,163.8 1248.5,164 1249.5,164.2 1250.6,164.5 1251.7,164.7 1252.7,165 1253.8,165.2 1254.9,165.5 1255.9,165.7 1257,165.9 1258.1,166.2 1259.1,166.4 1260.2,166.7 1261.2,166.9 1262.3,167.2 1263.4,167.4 1264.4,167.7 1265.5,167.9 1266.6,168.2 1267.6,168.4 1268.7,168.6 1269.8,168.9 1270.8,169.1 1271.9,169.4 1272.9,169.6 1274,169.9 1275.1,170.1 1276.1,170.4 1277.2,170.6 1278.3,170.9 1279.3,171.1 1280.4,171.4 1281.4,171.6 1282.5,171.9 1283.6,172.1 1284.6,172.4 1285.7,172.6 1286.8,172.9 1287.8,173.1 1288.9,173.4 1290,173.7 1291,173.9 1292.1,174.2 1293.1,174.4 1294.2,174.7 1295.3,174.9 1296.3,175.2 1297.4,175.4 1298.5,175.7 1299.5,175.9 1300.6,176.2 1301.7,176.4 1302.7,176.7 1303.8,177 1304.8,177.2 1305.9,177.5 1307,177.7 1308,178 1309.1,178.2 1310.2,178.5 1311.2,178.8 1312.3,179 1313.4,179.3 1314.4,179.5 1315.5,179.8 1316.5,180 1317.6,180.3 1318.7,180.6 1319.7,180.8 1320.8,181.1 1321.9,181.3 1322.9,181.6 1324,181.9 1325,182.1 1326.1,182.4 1327.2,182.6 1328.2,182.9 1329.3,183.2 1330.4,183.4 1331.4,183.7 1332.5,183.9 1333.6,184.2 1334.6,184.5 1335.7,184.7 1336.7,185 1337.8,185.2 1338.9,185.5 1339.9,185.8 1341,186 1342.1,186.3 1343.1,186.6 1344.2,186.8 1345.3,187.1 1346.3,187.4 1347.4,187.6 1348.4,187.9 1349.5,188.1 1350.6,188.4 1351.6,188.7 1352.7,188.9 1353.8,189.2 1354.8,189.5 1355.9,189.7 1356.9,190 1358,190.3 1359.1,190.5 1360.1,190.8 1361.2,191.1 1362.3,191.3 1363.3,191.6 1364.4,191.9 1365.5,192.1 1366.5,192.4 1367.6,192.7 1368.6,192.9 1369.7,193.2 1370.8,193.5 1371.8,193.7 1372.9,194 1374,194.3 1375,194.5 1376.1,194.8 1377.2,195.1 1378.2,195.3 1379.3,195.6 1380.3,195.9 1381.4,196.2 1382.5,196.4 1383.5,196.7 1384.6,197 1385.7,197.2 1386.7,197.5 1387.8,197.8 1388.9,198 1389.9,198.3 1391,198.6 1392,198.9 1393.1,199.1 1394.2,199.4 1395.2,199.7 1396.3,199.9 1397.4,200.2 1398.4,200.5 1399.5,200.8 1400.5,201 1401.6,201.3 1402.7,201.6 1403.7,201.8 1404.8,202.1 1405.9,202.4 1406.9,202.7 1408,202.9 1409.1,203.2 1410.1,203.5 1411.2,203.8 1412.2,204 1413.3,204.3 1414.4,204.6 1415.4,204.9 1416.5,205.1" fill="none" stroke="#3a731e" stroke-width="0.8" stroke-linejoin="round"/>
<polyline points="884.8,700 885.3,377.2 885.9,341.9 886.4,321 886.9,306 887.5,294.4 888,284.9 888.5,276.9 889.1,270 889.6,263.9 890.1,258.5 890.6,253.6 891.2,249.1 891.7,245 892.2,241.3 892.8,237.8 893.3,234.5 893.8,231.4 894.4,228.6 894.9,225.8 895.4,223.3 896,220.9 896.5,218.5 897,216.3 897.6,214.2 898.1,212.2 898.6,210.3 899.2,208.5 899.7,206.7 900.2,205 900.8,203.4 901.3,201.8 901.8,200.3 902.3,198.8 902.9,197.4 903.4,196 903.9,194.7 904.5,193.4 905,192.1 905.5,190.9 906.1,189.7 906.6,188.6 907.1,187.5 907.7,186.4 908.2,185.3 908.7,184.3 909.3,183.3 909.8,182.3 910.3,181.4 910.9,180.4 911.4,179.5 912.4,177.8 913.5,176.1 914.6,174.5 915.6,173 916.7,171.5 917.8,170.1 918.8,168.8 919.9,167.5 921,166.2 922,165 923.1,163.9 924.1,162.7 925.2,161.7 926.3,160.6 927.3,159.6 928.4,158.6 929.5,157.7 930.5,156.8 931.6,155.9 932.7,155.1 933.7,154.2 934.8,153.4 935.8,152.6 936.9,151.9 938,151.2 939,150.4 940.1,149.8 941.2,149.1 942.2,148.4 943.3,147.8 944.4,147.2 945.4,146.6 946.5,146 947.5,145.4 948.6,144.9 949.7,144.3 950.7,143.8 951.8,143.3 952.9,142.8 953.9,142.3 955,141.9 956,141.4 957.1,141 958.2,140.5 959.2,140.1 960.3,139.7 961.4,139.3 962.4,138.9 963.5,138.5 964.6,138.2 965.6,137.8 966.7,137.4 967.7,137.1 968.8,136.8 969.9,136.4 970.9,136.1 972,135.8 973.1,135.5 974.1,135.2 975.2,134.9 976.3,134.7 977.3,134.4 978.4,134.1 979.4,133.9 980.5,133.6 981.6,133.4 982.6,133.1 983.7,132.9 984.8,132.7 985.8,132.5 986.9,132.2 987.9,132 989,131.8 990.1,131.6 991.1,131.5 992.2,131.3 993.3,131.1 994.3,130.9 995.4,130.7 996.5,130.6 997.5,130.4 998.6,130.3 999.6,130.1 1000.7,130 1001.8,129.8 1002.8,129.7 1003.9,129.6 1005,129.4 1006,129.3 1007.1,129.2 1008.2,129.1 1009.2,129 1010.3,128.9 1011.3,128.8 1012.4,128.6 1013.5,128.6 1014.5,128.5 1015.6,128.4 1016.7,128.3 1017.7,128.2 1018.8,128.1 1019.9,128 1020.9,128 1022,127.9 1023,127.8 1024.1,127.8 1025.2,127.7 1026.2,127.7 1027.3,127.6 1028.4,127.6 1029.4,127.5 1030.5,127.5 1031.5,127.4 1032.6,127.4 1033.7,127.4 1034.7,127.3 1035.8,127.3 1036.9,127.3 1037.9,127.2 1039,127.2 1040.1,127.2 1041.1,127.2 1042.2,127.2 1043.2,127.1 1044.3,127.1 1045.4,127.1 1046.4,127.1 1047.5,127.1 1048.6,127.1 1049.6,127.1 1050.7,127.1 1051.8,127.1 1052.8,127.1 1053.9,127.1 1054.9,127.2 1056,127.2 1057.1,127.2 1058.1,127.2 1059.2,127.2 1060.3,127.2 1061.3,127.3 1062.4,127.3 1063.5,127.3 1064.5,127.4 1065.6,127.4 1066.6,127.4 1067.7,127.5 1068.8,127.5 1069.8,127.5 1070.9,127.6 1072,127.6 1073,127.7 1074.1,127.7 1075.1,127.8 1076.2,127.8 1077.3,127.9 1078.3,127.9 1079.4,128 1080.5,128 1081.5,128.1 1082.6,128.1 1083.7,128.2 1084.7,128.3 1085.8,128.3 1086.8,128.4 1087.9,128.4 1089,128.5 1090,128.6 1091.1,128.7 1092.2,128.7 1093.2,128.8 1094.3,128.9 1095.4,129 1096.4,129 1097.5,129.1 1098.5,129.2 1099.6,129.3 1100.7,129.4 1101.7,129.4 1102.8,129.5 1103.9,129.6 1104.9,129.7 1106,129.8 1107.1,129.9 1108.1,130 1109.2,130.1 1110.2,130.2 1111.3,130.3 1112.4,130.4 1113.4,130.5 1114.5,130.6 1115.6,130.7 1116.6,130.8 1117.7,130.9 1118.7,131 1119.8,131.1 1120.9,131.2 1121.9,131.3 1123,131.4 1124.1,131.5 1125.1,131.6 1126.2,131.7 1127.3,131.8 1128.3,131.9 1129.4,132.1 1130.4,132.2 1131.5,132.3 1132.6,132.4 1133.6,132.5 1134.7,132.6 1135.8,132.8 1136.8,132.9 1137.9,133 1139,133.1 1140,133.2 1141.1,133.4 1142.1,133.5 1143.2,133.6 1144.3,133.8 1145.3,133.9 1146.4,134 1147.5,134.1 1148.5,134.3 1149.6,134.4 1150.7,134.5 1151.7,134.7 1152.8,134.8 1153.8,134.9 1154.9,135.1 1156,135.2 1157,135.3 1158.1,135.5 1159.2,135.6 1160.2,135.8 1161.3,135.9 1162.3,136.1 1163.4,136.2 1164.5,136.3 1165.5,136.5 1166.6,136.6 1167.7,136.8 1168.7,136.9 1169.8,137.1 1170.9,137.2 1171.9,137.4 1173,137.5 1174,137.7 1175.1,137.8 1176.2,138 1177.2,138.1 1178.3,138.3 1179.4,138.4 1180.4,138.6 1181.5,138.7 1182.6,138.9 1183.6,139 1184.7,139.2 1185.7,139.4 1186.8,139.5 1187.9,139.7 1188.9,139.8 1190,140 1191.1,140.2 1192.1,140.3 1193.2,140.5 1194.2,140.6 1195.3,140.8 1196.4,141 1197.4,141.1 1198.5,141.3 1199.6,141.5 1200.6,141.6 1201.7,141.8 1202.8,142 1203.8,142.1 1204.9,142.3 1205.9,142.5 1207,142.6 1208.1,142.8 1209.1,143 1210.2,143.2 1211.3,143.3 1212.3,143.5 1213.4,143.7 1214.5,143.9 1215.5,144 1216.6,144.2 1217.6,144.4 1218.7,144.6 1219.8,144.7 1220.8,144.9 1221.9,145.1 1223,145.3 1224,145.4 1225.1,145.6 1226.2,145.8 1227.2,146 1228.3,146.2 1229.3,146.3 1230.4,146.5 1231.5,146.7 1232.5,146.9 1233.6,147.1 1234.7,147.3 1235.7,147.4 1236.8,147.6 1237.8,147.8 1238.9,148 1240,148.2 1241,148.4 1242.1,148.6 1243.2,148.8 1244.2,148.9 1245.3,149.1 1246.4,149.3 1247.4,149.5 1248.5,149.7 1249.5,149.9 1250.6,150.1 1251.7,150.3 1252.7,150.5 1253.8,150.7 1254.9,150.9 1255.9,151 1257,151.2 1258.1,151.4 1259.1,151.6 1260.2,151.8 1261.2,152 1262.3,152.2 1263.4,152.4 1264.4,152.6 1265.5,152.8 1266.6,153 1267.6,153.2 1268.7,153.4 1269.8,153.6 1270.8,153.8 1271.9,154 1272.9,154.2 1274,154.4 1275.1,154.6 1276.1,154.8 1277.2,155 1278.3,155.2 1279.3,155.4 1280.4,155.6 1281.4,155.8 1282.5,156 1283.6,156.2 1284.6,156.4 1285.7,156.6 1286.8,156.8 1287.8,157 1288.9,157.2 1290,157.5 1291,157.7 1292.1,157.9 1293.1,158.1 1294.2,158.3 1295.3,158.5 1296.3,158.7 1297.4,158.9 1298.5,159.1 1299.5,159.3 1300.6,159.5 1301.7,159.7 1302.7,160 1303.8,160.2 1304.8,160.4 1305.9,160.6 1307,160.8 1308,161 1309.1,161.2 1310.2,161.4 1311.2,161.7 1312.3,161.9 1313.4,162.1 1314.4,162.3 1315.5,162.5 1316.5,162.7 1317.6,162.9 1318.7,163.2 1319.7,163.4 1320.8,163.6 1321.9,163.8 1322.9,164 1324,164.2 1325,164.5 1326.1,164.7 1327.2,164.9 1328.2,165.1 1329.3,165.3 1330.4,165.5 1331.4,165.8 1332.5,166 1333.6,166.2 1334.6,166.4 1335.7,166.6 1336.7,166.9 1337.8,167.1 1338.9,167.3 1339.9,167.5 1341,167.7 1342.1,168 1343.1,168.2 1344.2,168.4 1345.3,168.6 1346.3,168.9 1347.4,169.1 1348.4,169.3 1349.5,169.5 1350.6,169.8 1351.6,170 1352.7,170.2 1353.8,170.4 1354.8,170.7 1355.9,170.9 1356.9,171.1 1358,171.3 1359.1,171.6 1360.1,171.8 1361.2,172 1362.3,172.2 1363.3,172.5 1364.4,172.7 1365.5,172.9 1366.5,173.2 1367.6,173.4 1368.6,173.6 1369.7,173.8 1370.8,174.1 1371.8,174.3 1372.9,174.5 1374,174.8 1375,175 1376.1,175.2 1377.2,175.5 1378.2,175.7 1379.3,175.9 1380.3,176.1 1381.4,176.4 1382.5,176.6 1383.5,176.8 1384.6,177.1 1385.7,177.3 1386.7,177.5 1387.8,177.8 1388.9,178 1389.9,178.2 1391,178.5 1392,178.7 1393.1,178.9 1394.2,179.2 1395.2,179.4 1396.3,179.7 1397.4,179.9 1398.4,180.1 1399.5,180.4 1400.5,180.6 1401.6,180.8 1402.7,181.1 1403.7,181.3 1404.8,181.5 1405.9,181.8 1406.9,182 1408,182.3 1409.1,182.5 1410.1,182.7 1411.2,183 1412.2,183.2 1413.3,183.4 1414.4,183.7 1415.4,183.9 1416.5,184.2" fill="none" stroke="#e8961e" stroke-width="3" stroke-linejoin="round" marker-mid="url(#mDB)" marker-end="url(#mDB)"/>
<polyline points="884.8,700 885.3,483.5 885.9,436.4 886.4,408.3 886.9,388.3 887.5,372.7 888,360 888.5,349.2 889.1,339.9 889.6,331.7 890.1,324.3 890.6,317.7 891.2,311.7 891.7,306.1 892.2,301 892.8,296.2 893.3,291.8 893.8,287.6 894.4,283.7 894.9,280 895.4,276.5 896,273.1 896.5,270 897,266.9 897.6,264 898.1,261.3 898.6,258.6 899.2,256.1 899.7,253.6 900.2,251.3 900.8,249 901.3,246.8 901.8,244.7 902.3,242.6 902.9,240.6 903.4,238.7 903.9,236.8 904.5,235 905,233.2 905.5,231.5 906.1,229.9 906.6,228.2 907.1,226.7 907.7,225.1 908.2,223.6 908.7,222.1 909.3,220.7 909.8,219.3 910.3,218 910.9,216.6 911.4,215.3 912.4,212.8 913.5,210.4 914.6,208.1 915.6,205.8 916.7,203.7 917.8,201.6 918.8,199.6 919.9,197.7 921,195.8 922,194 923.1,192.3 924.1,190.6 925.2,189 926.3,187.4 927.3,185.9 928.4,184.4 929.5,182.9 930.5,181.5 931.6,180.2 932.7,178.8 933.7,177.5 934.8,176.3 935.8,175 936.9,173.8 938,172.7 939,171.5 940.1,170.4 941.2,169.3 942.2,168.2 943.3,167.2 944.4,166.2 945.4,165.2 946.5,164.2 947.5,163.2 948.6,162.3 949.7,161.4 950.7,160.5 951.8,159.6 952.9,158.8 953.9,157.9 955,157.1 956,156.3 957.1,155.5 958.2,154.7 959.2,154 960.3,153.2 961.4,152.5 962.4,151.8 963.5,151.1 964.6,150.4 965.6,149.7 966.7,149 967.7,148.4 968.8,147.7 969.9,147.1 970.9,146.4 972,145.8 973.1,145.2 974.1,144.6 975.2,144 976.3,143.5 977.3,142.9 978.4,142.4 979.4,141.8 980.5,141.3 981.6,140.7 982.6,140.2 983.7,139.7 984.8,139.2 985.8,138.7 986.9,138.2 987.9,137.7 989,137.3 990.1,136.8 991.1,136.3 992.2,135.9 993.3,135.4 994.3,135 995.4,134.6 996.5,134.1 997.5,133.7 998.6,133.3 999.6,132.9 1000.7,132.5 1001.8,132.1 1002.8,131.7 1003.9,131.3 1005,130.9 1006,130.6 1007.1,130.2 1008.2,129.8 1009.2,129.5 1010.3,129.1 1011.3,128.8 1012.4,128.4 1013.5,128.1 1014.5,127.7 1015.6,127.4 1016.7,127.1 1017.7,126.8 1018.8,126.4 1019.9,126.1 1020.9,125.8 1022,125.5 1023,125.2 1024.1,124.9 1025.2,124.6 1026.2,124.3 1027.3,124 1028.4,123.8 1029.4,123.5 1030.5,123.2 1031.5,122.9 1032.6,122.7 1033.7,122.4 1034.7,122.1 1035.8,121.9 1036.9,121.6 1037.9,121.4 1039,121.1 1040.1,120.9 1041.1,120.6 1042.2,120.4 1043.2,120.2 1044.3,119.9 1045.4,119.7 1046.4,119.5 1047.5,119.2 1048.6,119 1049.6,118.8 1050.7,118.6 1051.8,118.4 1052.8,118.2 1053.9,117.9 1054.9,117.7 1056,117.5 1057.1,117.3 1058.1,117.1 1059.2,116.9 1060.3,116.7 1061.3,116.6 1062.4,116.4 1063.5,116.2 1064.5,116 1065.6,115.8 1066.6,115.6 1067.7,115.4 1068.8,115.3 1069.8,115.1 1070.9,114.9 1072,114.8 1073,114.6 1074.1,114.4 1075.1,114.3 1076.2,114.1 1077.3,113.9 1078.3,113.8 1079.4,113.6 1080.5,113.5 1081.5,113.3 1082.6,113.2 1083.7,113 1084.7,112.9 1085.8,112.7 1086.8,112.6 1087.9,112.4 1089,112.3 1090,112.2 1091.1,112 1092.2,111.9 1093.2,111.7 1094.3,111.6 1095.4,111.5 1096.4,111.3 1097.5,111.2 1098.5,111.1 1099.6,111 1100.7,110.8 1101.7,110.7 1102.8,110.6 1103.9,110.5 1104.9,110.4 1106,110.2 1107.1,110.1 1108.1,110 1109.2,109.9 1110.2,109.8 1111.3,109.7 1112.4,109.6 1113.4,109.5 1114.5,109.4 1115.6,109.3 1116.6,109.1 1117.7,109 1118.7,108.9 1119.8,108.8 1120.9,108.7 1121.9,108.6 1123,108.5 1124.1,108.5 1125.1,108.4 1126.2,108.3 1127.3,108.2 1128.3,108.1 1129.4,108 1130.4,107.9 1131.5,107.8 1132.6,107.7 1133.6,107.6 1134.7,107.5 1135.8,107.5 1136.8,107.4 1137.9,107.3 1139,107.2 1140,107.1 1141.1,107.1 1142.1,107 1143.2,106.9 1144.3,106.8 1145.3,106.7 1146.4,106.7 1147.5,106.6 1148.5,106.5 1149.6,106.4 1150.7,106.4 1151.7,106.3 1152.8,106.2 1153.8,106.2 1154.9,106.1 1156,106 1157,106 1158.1,105.9 1159.2,105.8 1160.2,105.8 1161.3,105.7 1162.3,105.6 1163.4,105.6 1164.5,105.5 1165.5,105.4 1166.6,105.4 1167.7,105.3 1168.7,105.3 1169.8,105.2 1170.9,105.1 1171.9,105.1 1173,105 1174,105 1175.1,104.9 1176.2,104.9 1177.2,104.8 1178.3,104.8 1179.4,104.7 1180.4,104.7 1181.5,104.6 1182.6,104.6 1183.6,104.5 1184.7,104.5 1185.7,104.4 1186.8,104.4 1187.9,104.3 1188.9,104.3 1190,104.2 1191.1,104.2 1192.1,104.1 1193.2,104.1 1194.2,104 1195.3,104 1196.4,103.9 1197.4,103.9 1198.5,103.9 1199.6,103.8 1200.6,103.8 1201.7,103.7 1202.8,103.7 1203.8,103.6 1204.9,103.6 1205.9,103.6 1207,103.5 1208.1,103.5 1209.1,103.5 1210.2,103.4 1211.3,103.4 1212.3,103.3 1213.4,103.3 1214.5,103.3 1215.5,103.2 1216.6,103.2 1217.6,103.2 1218.7,103.1 1219.8,103.1 1220.8,103.1 1221.9,103 1223,103 1224,103 1225.1,102.9 1226.2,102.9 1227.2,102.9 1228.3,102.8 1229.3,102.8 1230.4,102.8 1231.5,102.7 1232.5,102.7 1233.6,102.7 1234.7,102.7 1235.7,102.6 1236.8,102.6 1237.8,102.6 1238.9,102.5 1240,102.5 1241,102.5 1242.1,102.5 1243.2,102.4 1244.2,102.4 1245.3,102.4 1246.4,102.4 1247.4,102.3 1248.5,102.3 1249.5,102.3 1250.6,102.3 1251.7,102.2 1252.7,102.2 1253.8,102.2 1254.9,102.2 1255.9,102.2 1257,102.1 1258.1,102.1 1259.1,102.1 1260.2,102.1 1261.2,102 1262.3,102 1263.4,102 1264.4,102 1265.5,102 1266.6,101.9 1267.6,101.9 1268.7,101.9 1269.8,101.9 1270.8,101.9 1271.9,101.8 1272.9,101.8 1274,101.8 1275.1,101.8 1276.1,101.8 1277.2,101.8 1278.3,101.7 1279.3,101.7 1280.4,101.7 1281.4,101.7 1282.5,101.7 1283.6,101.7 1284.6,101.6 1285.7,101.6 1286.8,101.6 1287.8,101.6 1288.9,101.6 1290,101.6 1291,101.5 1292.1,101.5 1293.1,101.5 1294.2,101.5 1295.3,101.5 1296.3,101.5 1297.4,101.5 1298.5,101.4 1299.5,101.4 1300.6,101.4 1301.7,101.4 1302.7,101.4 1303.8,101.4 1304.8,101.4 1305.9,101.3 1307,101.3 1308,101.3 1309.1,101.3 1310.2,101.3 1311.2,101.3 1312.3,101.3 1313.4,101.3 1314.4,101.3 1315.5,101.2 1316.5,101.2 1317.6,101.2 1318.7,101.2 1319.7,101.2 1320.8,101.2 1321.9,101.2 1322.9,101.2 1324,101.2 1325,101.1 1326.1,101.1 1327.2,101.1 1328.2,101.1 1329.3,101.1 1330.4,101.1 1331.4,101.1 1332.5,101.1 1333.6,101.1 1334.6,101.1 1335.7,101.1 1336.7,101 1337.8,101 1338.9,101 1339.9,101 1341,101 1342.1,101 1343.1,101 1344.2,101 1345.3,101 1346.3,101 1347.4,101 1348.4,101 1349.5,100.9 1350.6,100.9 1351.6,100.9 1352.7,100.9 1353.8,100.9 1354.8,100.9 1355.9,100.9 1356.9,100.9 1358,100.9 1359.1,100.9 1360.1,100.9 1361.2,100.9 1362.3,100.9 1363.3,100.9 1364.4,100.9 1365.5,100.8 1366.5,100.8 1367.6,100.8 1368.6,100.8 1369.7,100.8 1370.8,100.8 1371.8,100.8 1372.9,100.8 1374,100.8 1375,100.8 1376.1,100.8 1377.2,100.8 1378.2,100.8 1379.3,100.8 1380.3,100.8 1381.4,100.8 1382.5,100.8 1383.5,100.8 1384.6,100.7 1385.7,100.7 1386.7,100.7 1387.8,100.7 1388.9,100.7 1389.9,100.7 1391,100.7 1392,100.7 1393.1,100.7 1394.2,100.7 1395.2,100.7 1396.3,100.7 1397.4,100.7 1398.4,100.7 1399.5,100.7 1400.5,100.7 1401.6,100.7 1402.7,100.7 1403.7,100.7 1404.8,100.7 1405.9,100.7 1406.9,100.7 1408,100.7 1409.1,100.7 1410.1,100.6 1411.2,100.6 1412.2,100.6 1413.3,100.6 1414.4,100.6 1415.4,100.6 1416.5,100.6" fill="none" stroke="#db0000" stroke-width="3" stroke-linejoin="round" marker-mid="url(#mE)" marker-end="url(#mE)"/>
</g>
<rect x="858.6" y="82" width="584.6" height="419.6" fill="none" stroke="#303030" stroke-width="2.4" stroke-linejoin="round"/>
<path d="M851.0,429.20H858.6 M851.0,347.00H858.6 M851.0,264.80H858.6 M851.0,182.60H858.6 M851.0,100.40H858.6 M884.80,501.6V509.40000000000003 M991.14,501.6V509.40000000000003 M1097.48,501.6V509.40000000000003 M1203.82,501.6V509.40000000000003 M1310.16,501.6V509.40000000000003 M1416.50,501.6V509.40000000000003" stroke="#303030" stroke-width="2.0" fill="none"/>
<path transform="translate(805.45,438.70) scale(0.01294,-0.01294)" d="M763,0L583,0L583,1147Q518,1085 412.5,1023Q307,961 223,930L223,1104Q374,1175 487,1276Q600,1377 647,1472L763,1472Z" fill="#111"/>
<text x="820.19" y="438.70" font-size="26.5" fill="#111">0</text>
<text x="834.92" y="430.70" font-size="16.5" fill="#111">2</text>
<path transform="translate(805.45,356.50) scale(0.01294,-0.01294)" d="M763,0L583,0L583,1147Q518,1085 412.5,1023Q307,961 223,930L223,1104Q374,1175 487,1276Q600,1377 647,1472L763,1472Z" fill="#111"/>
<text x="820.19" y="356.50" font-size="26.5" fill="#111">0</text>
<text x="834.92" y="348.50" font-size="16.5" fill="#111">4</text>
<path transform="translate(805.45,274.30) scale(0.01294,-0.01294)" d="M763,0L583,0L583,1147Q518,1085 412.5,1023Q307,961 223,930L223,1104Q374,1175 487,1276Q600,1377 647,1472L763,1472Z" fill="#111"/>
<text x="820.19" y="274.30" font-size="26.5" fill="#111">0</text>
<text x="834.92" y="266.30" font-size="16.5" fill="#111">6</text>
<path transform="translate(805.45,192.10) scale(0.01294,-0.01294)" d="M763,0L583,0L583,1147Q518,1085 412.5,1023Q307,961 223,930L223,1104Q374,1175 487,1276Q600,1377 647,1472L763,1472Z" fill="#111"/>
<text x="820.19" y="192.10" font-size="26.5" fill="#111">0</text>
<text x="834.92" y="184.10" font-size="16.5" fill="#111">8</text>
<path transform="translate(796.27,109.90) scale(0.01294,-0.01294)" d="M763,0L583,0L583,1147Q518,1085 412.5,1023Q307,961 223,930L223,1104Q374,1175 487,1276Q600,1377 647,1472L763,1472Z" fill="#111"/>
<text x="811.01" y="109.90" font-size="26.5" fill="#111">0</text>
<path transform="translate(825.75,101.90) scale(0.00806,-0.00806)" d="M763,0L583,0L583,1147Q518,1085 412.5,1023Q307,961 223,930L223,1104Q374,1175 487,1276Q600,1377 647,1472L763,1472Z" fill="#111"/>
<text x="834.92" y="101.90" font-size="16.5" fill="#111">0</text>
<text transform="translate(877.43,537.20) scale(1,1.05)" font-size="26.5" fill="#111">0</text>
<text transform="translate(961.66,537.20) scale(1,1.05)" font-size="26.5" fill="#111">2</text>
<text transform="translate(976.40,537.20) scale(1,1.05)" font-size="26.5" fill="#111">0</text>
<text transform="translate(991.14,537.20) scale(1,1.05)" font-size="26.5" fill="#111">0</text>
<text transform="translate(1005.88,537.20) scale(1,1.05)" font-size="26.5" fill="#111">0</text>
<text transform="translate(1068.00,537.20) scale(1,1.05)" font-size="26.5" fill="#111">4</text>
<text transform="translate(1082.74,537.20) scale(1,1.05)" font-size="26.5" fill="#111">0</text>
<text transform="translate(1097.48,537.20) scale(1,1.05)" font-size="26.5" fill="#111">0</text>
<text transform="translate(1112.22,537.20) scale(1,1.05)" font-size="26.5" fill="#111">0</text>
<text transform="translate(1174.34,537.20) scale(1,1.05)" font-size="26.5" fill="#111">6</text>
<text transform="translate(1189.08,537.20) scale(1,1.05)" font-size="26.5" fill="#111">0</text>
<text transform="translate(1203.82,537.20) scale(1,1.05)" font-size="26.5" fill="#111">0</text>
<text transform="translate(1218.56,537.20) scale(1,1.05)" font-size="26.5" fill="#111">0</text>
<text transform="translate(1280.68,537.20) scale(1,1.05)" font-size="26.5" fill="#111">8</text>
<text transform="translate(1295.42,537.20) scale(1,1.05)" font-size="26.5" fill="#111">0</text>
<text transform="translate(1310.16,537.20) scale(1,1.05)" font-size="26.5" fill="#111">0</text>
<text transform="translate(1324.90,537.20) scale(1,1.05)" font-size="26.5" fill="#111">0</text>
<path transform="translate(1379.65,537.20) scale(0.01294,-0.01359)" d="M763,0L583,0L583,1147Q518,1085 412.5,1023Q307,961 223,930L223,1104Q374,1175 487,1276Q600,1377 647,1472L763,1472Z" fill="#111"/>
<text transform="translate(1394.39,537.20) scale(1,1.05)" font-size="26.5" fill="#111">0</text>
<text transform="translate(1409.13,537.20) scale(1,1.05)" font-size="26.5" fill="#111">0</text>
<text transform="translate(1423.87,537.20) scale(1,1.05)" font-size="26.5" fill="#111">0</text>
<text transform="translate(1438.61,537.20) scale(1,1.05)" font-size="26.5" fill="#111">0</text>
<text transform="translate(1149.9,577.1) scale(1,1.07)" text-anchor="middle" font-size="26.6" font-weight="bold" fill="#111">Time (Steps)</text>
<text transform="translate(773.6,291.8) rotate(-90) scale(1,1.07)" x="0" y="0" text-anchor="middle" font-size="27" font-weight="bold" fill="#111">Number (Counts)</text>
<text x="977.9" y="56.6" font-size="26.95" font-weight="bold" fill="#111">Element number dynamics</text>
<text x="736.5" y="32.2" font-size="43" font-weight="bold" fill="#000">B</text>
<line x1="993.0" y1="610.4" x2="1043.5" y2="610.4" stroke="#0000ff" stroke-width="4" stroke-linecap="round"/>
<path d="M1013.9,610.4 L1025.5,603.3 L1025.5,617.5 Z" fill="#0000ff"/>
<line x1="1162.8" y1="610.4" x2="1212.6" y2="610.4" stroke="#2d5e14" stroke-width="4" stroke-linecap="round"/>
<line x1="1162.8" y1="610.4" x2="1212.6" y2="610.4" stroke="#3f7d22" stroke-width="1.6" stroke-linecap="round"/>
<path d="M1184.1,610.4 L1187.9,605.6 L1191.7,610.4 L1187.9,615.1999999999999 Z" fill="#468628" stroke="#2f6414" stroke-width="0.9"/>
<line x1="992.6" y1="634.8" x2="1042.4" y2="634.8" stroke="#e8961e" stroke-width="4" stroke-linecap="round"/>
<path d="M1017.70,629.70 L1019.17,633.08 L1022.84,633.43 L1020.08,635.87 L1020.87,639.47 L1017.70,637.60 L1014.53,639.47 L1015.32,635.87 L1012.56,633.43 L1016.23,633.08 Z" fill="#eba02c"/>
<line x1="1162.4" y1="634.8" x2="1212.2" y2="634.8" stroke="#db0000" stroke-width="4" stroke-linecap="round"/>
<path d="M1182.1,634.8 L1187.5,625.5999999999999 L1192.9,634.8 L1187.5,644.0 Z" fill="#db0000"/>
<text x="1050.6" y="619.8" font-size="23.8" fill="#1a1a1a">HbO2</text>
<text x="1219.6" y="619.8" font-size="23.8" fill="#1a1a1a">Hb(O2)2</text>
<text x="1050.6" y="644.4" font-size="23.8" fill="#1a1a1a">Hb(O2)3</text>
<text x="1219.6" y="644.4" font-size="23.8" fill="#1a1a1a">Hb(O2)4</text>
</svg>
</body></html>
